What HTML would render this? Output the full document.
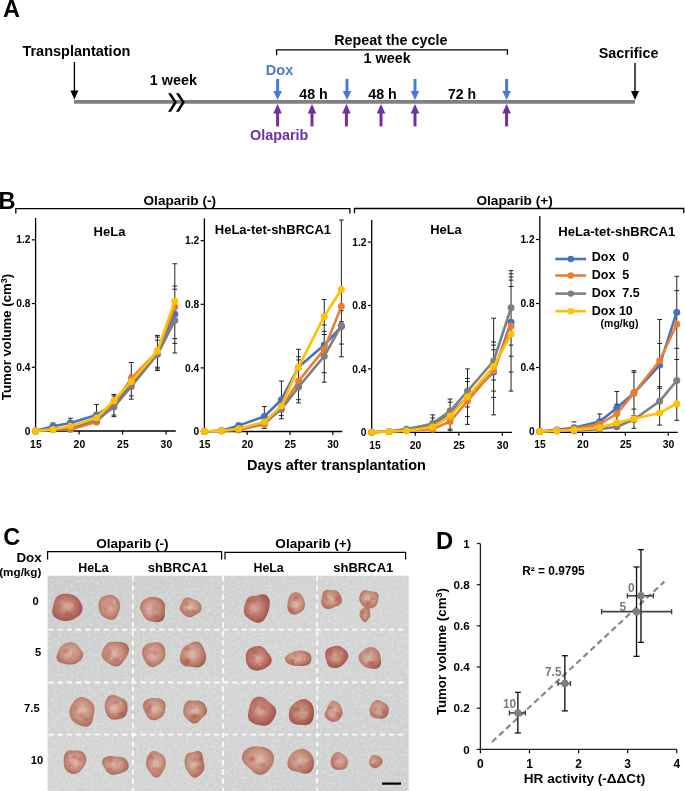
<!DOCTYPE html>
<html><head><meta charset="utf-8"><style>
html,body{margin:0;padding:0;background:#fff;}
svg{display:block;font-family:"Liberation Sans", sans-serif;will-change:transform;}
</style></head><body>
<svg width="685" height="791" viewBox="0 0 685 791">
<text x="3.00" y="17.20" font-size="23.5" text-anchor="start" fill="#000" font-weight="bold" >A</text>
<line x1="74.00" y1="101.80" x2="635.00" y2="101.80" stroke="#808080" stroke-width="3.8" />
<line x1="74.40" y1="62.00" x2="74.40" y2="91.50" stroke="#000" stroke-width="1.4" />
<polygon points="70.40,90.50 78.40,90.50 74.40,99.50" fill="#000"/>
<line x1="635.00" y1="63.00" x2="635.00" y2="92.00" stroke="#000" stroke-width="1.4" />
<polygon points="631.00,91.00 639.00,91.00 635.00,100.00" fill="#000"/>
<text x="22.40" y="56.20" font-size="14.5" text-anchor="start" fill="#000" font-weight="bold" >Transplantation</text>
<text x="598.80" y="58.20" font-size="14.3" text-anchor="start" fill="#000" font-weight="bold" >Sacrifice</text>
<text x="149.80" y="84.80" font-size="14.4" text-anchor="start" fill="#000" font-weight="bold" >1 week</text>
<polygon points="168.00,93.2 171.10,93.2 177.00,102.2 171.10,111.8 168.00,111.8 174.00,102.2" fill="#000"/>
<polygon points="175.90,93.2 179.00,93.2 184.90,102.2 179.00,111.8 175.90,111.8 181.90,102.2" fill="#000"/>
<polyline points="276.6,55.2 276.6,49.8 507.4,49.8 507.4,54.8" fill="none" stroke="#000" stroke-width="1.3"/>
<text x="334.20" y="45.20" font-size="14.36" text-anchor="start" fill="#000" font-weight="bold" >Repeat the cycle</text>
<text x="363.60" y="63.40" font-size="14.4" text-anchor="start" fill="#000" font-weight="bold" >1 week</text>
<line x1="277.60" y1="79.00" x2="277.60" y2="92.00" stroke="#4A7BD0" stroke-width="3.0" />
<polygon points="273.30,91.00 281.90,91.00 277.60,100.00" fill="#4A7BD0"/>
<line x1="347.00" y1="79.00" x2="347.00" y2="92.00" stroke="#4A7BD0" stroke-width="3.0" />
<polygon points="342.70,91.00 351.30,91.00 347.00,100.00" fill="#4A7BD0"/>
<line x1="415.00" y1="79.00" x2="415.00" y2="92.00" stroke="#4A7BD0" stroke-width="3.0" />
<polygon points="410.70,91.00 419.30,91.00 415.00,100.00" fill="#4A7BD0"/>
<line x1="506.60" y1="79.00" x2="506.60" y2="92.00" stroke="#4A7BD0" stroke-width="3.0" />
<polygon points="502.30,91.00 510.90,91.00 506.60,100.00" fill="#4A7BD0"/>
<line x1="277.60" y1="112.50" x2="277.60" y2="126.40" stroke="#7030A0" stroke-width="3.0" />
<polygon points="273.30,113.50 281.90,113.50 277.60,104.00" fill="#7030A0"/>
<line x1="312.00" y1="112.50" x2="312.00" y2="126.40" stroke="#7030A0" stroke-width="3.0" />
<polygon points="307.70,113.50 316.30,113.50 312.00,104.00" fill="#7030A0"/>
<line x1="346.40" y1="112.50" x2="346.40" y2="126.40" stroke="#7030A0" stroke-width="3.0" />
<polygon points="342.10,113.50 350.70,113.50 346.40,104.00" fill="#7030A0"/>
<line x1="381.00" y1="112.50" x2="381.00" y2="126.40" stroke="#7030A0" stroke-width="3.0" />
<polygon points="376.70,113.50 385.30,113.50 381.00,104.00" fill="#7030A0"/>
<line x1="415.00" y1="112.50" x2="415.00" y2="126.40" stroke="#7030A0" stroke-width="3.0" />
<polygon points="410.70,113.50 419.30,113.50 415.00,104.00" fill="#7030A0"/>
<line x1="506.60" y1="112.50" x2="506.60" y2="126.40" stroke="#7030A0" stroke-width="3.0" />
<polygon points="502.30,113.50 510.90,113.50 506.60,104.00" fill="#7030A0"/>
<text x="265.80" y="74.50" font-size="14.5" text-anchor="start" fill="#4A7BD0" font-weight="bold" >Dox</text>
<text x="250.00" y="140.10" font-size="14.4" text-anchor="start" fill="#7030A0" font-weight="bold" >Olaparib</text>
<text x="299.20" y="98.60" font-size="14.3" text-anchor="start" fill="#000" font-weight="bold" >48 h</text>
<text x="368.20" y="98.60" font-size="14.3" text-anchor="start" fill="#000" font-weight="bold" >48 h</text>
<text x="448.00" y="98.60" font-size="14.1" text-anchor="start" fill="#000" font-weight="bold" >72 h</text>
<text x="-1.40" y="208.60" font-size="23.6" text-anchor="start" fill="#000" font-weight="bold" >B</text>
<polyline points="15.8,213.6 15.8,208.6 349.9,208.6 349.9,213.6" fill="none" stroke="#000" stroke-width="1.3"/>
<polyline points="354.5,213.3 354.5,208.5 683.8,208.5 683.8,213.3" fill="none" stroke="#000" stroke-width="1.3"/>
<text x="179.80" y="205.20" font-size="13.6" text-anchor="middle" fill="#000" font-weight="bold" >Olaparib (-)</text>
<text x="514.60" y="205.10" font-size="13.7" text-anchor="middle" fill="#000" font-weight="bold" >Olaparib (+)</text>
<text x="11.20" y="337.00" font-size="13.2" text-anchor="middle" fill="#000" font-weight="bold" transform="rotate(-90 11.2 337.0)">Tumor volume (cm<tspan font-size="9" dy="-3.8">3</tspan><tspan dy="3.8">)</tspan></text>
<text x="336.50" y="470.00" font-size="14.5" text-anchor="middle" fill="#000" font-weight="bold" >Days after transplantation</text>
<line x1="35.60" y1="218.00" x2="35.60" y2="431.50" stroke="#000" stroke-width="1.3" />
<line x1="35.00" y1="431.00" x2="175.80" y2="431.00" stroke="#000" stroke-width="1.3" />
<line x1="31.80" y1="431.00" x2="35.60" y2="431.00" stroke="#000" stroke-width="1.2" />
<text x="30.40" y="434.60" font-size="10.2" text-anchor="end" fill="#000" font-weight="bold" >0</text>
<line x1="31.80" y1="367.28" x2="35.60" y2="367.28" stroke="#000" stroke-width="1.2" />
<text x="30.40" y="370.88" font-size="10.2" text-anchor="end" fill="#000" font-weight="bold" >0.4</text>
<line x1="31.80" y1="303.56" x2="35.60" y2="303.56" stroke="#000" stroke-width="1.2" />
<text x="30.40" y="307.16" font-size="10.2" text-anchor="end" fill="#000" font-weight="bold" >0.8</text>
<line x1="31.80" y1="239.84" x2="35.60" y2="239.84" stroke="#000" stroke-width="1.2" />
<text x="30.40" y="243.44" font-size="10.2" text-anchor="end" fill="#000" font-weight="bold" >1.2</text>
<line x1="79.10" y1="431.00" x2="79.10" y2="434.50" stroke="#000" stroke-width="1.2" />
<line x1="122.60" y1="431.00" x2="122.60" y2="434.50" stroke="#000" stroke-width="1.2" />
<line x1="166.10" y1="431.00" x2="166.10" y2="434.50" stroke="#000" stroke-width="1.2" />
<text x="35.90" y="447.60" font-size="10.4" text-anchor="middle" fill="#000" font-weight="bold" >15</text>
<text x="79.40" y="447.60" font-size="10.4" text-anchor="middle" fill="#000" font-weight="bold" >20</text>
<text x="122.90" y="447.60" font-size="10.4" text-anchor="middle" fill="#000" font-weight="bold" >25</text>
<text x="166.40" y="447.60" font-size="10.4" text-anchor="middle" fill="#000" font-weight="bold" >30</text>
<text x="93.60" y="236.40" font-size="13.0" text-anchor="start" fill="#000" font-weight="bold" >HeLa</text>
<line x1="53.00" y1="423.04" x2="53.00" y2="423.04" stroke="#222" stroke-width="1.0" />
<line x1="50.60" y1="423.04" x2="55.40" y2="423.04" stroke="#222" stroke-width="1.0" />
<line x1="70.40" y1="418.26" x2="70.40" y2="429.41" stroke="#222" stroke-width="1.0" />
<line x1="68.00" y1="418.26" x2="72.80" y2="418.26" stroke="#222" stroke-width="1.0" />
<line x1="68.00" y1="429.41" x2="72.80" y2="429.41" stroke="#222" stroke-width="1.0" />
<line x1="96.50" y1="404.40" x2="96.50" y2="424.63" stroke="#222" stroke-width="1.0" />
<line x1="94.10" y1="404.40" x2="98.90" y2="404.40" stroke="#222" stroke-width="1.0" />
<line x1="94.10" y1="421.44" x2="98.90" y2="421.44" stroke="#222" stroke-width="1.0" />
<line x1="94.10" y1="424.63" x2="98.90" y2="424.63" stroke="#222" stroke-width="1.0" />
<line x1="113.90" y1="394.36" x2="113.90" y2="416.66" stroke="#222" stroke-width="1.0" />
<line x1="111.50" y1="394.36" x2="116.30" y2="394.36" stroke="#222" stroke-width="1.0" />
<line x1="111.50" y1="395.95" x2="116.30" y2="395.95" stroke="#222" stroke-width="1.0" />
<line x1="111.50" y1="415.07" x2="116.30" y2="415.07" stroke="#222" stroke-width="1.0" />
<line x1="111.50" y1="416.66" x2="116.30" y2="416.66" stroke="#222" stroke-width="1.0" />
<line x1="131.30" y1="362.50" x2="131.30" y2="399.14" stroke="#222" stroke-width="1.0" />
<line x1="128.90" y1="362.50" x2="133.70" y2="362.50" stroke="#222" stroke-width="1.0" />
<line x1="128.90" y1="375.25" x2="133.70" y2="375.25" stroke="#222" stroke-width="1.0" />
<line x1="128.90" y1="395.95" x2="133.70" y2="395.95" stroke="#222" stroke-width="1.0" />
<line x1="128.90" y1="399.14" x2="133.70" y2="399.14" stroke="#222" stroke-width="1.0" />
<line x1="157.40" y1="335.42" x2="157.40" y2="370.47" stroke="#222" stroke-width="1.0" />
<line x1="155.00" y1="335.42" x2="159.80" y2="335.42" stroke="#222" stroke-width="1.0" />
<line x1="155.00" y1="337.01" x2="159.80" y2="337.01" stroke="#222" stroke-width="1.0" />
<line x1="155.00" y1="340.20" x2="159.80" y2="340.20" stroke="#222" stroke-width="1.0" />
<line x1="155.00" y1="367.28" x2="159.80" y2="367.28" stroke="#222" stroke-width="1.0" />
<line x1="155.00" y1="368.87" x2="159.80" y2="368.87" stroke="#222" stroke-width="1.0" />
<line x1="155.00" y1="370.47" x2="159.80" y2="370.47" stroke="#222" stroke-width="1.0" />
<line x1="174.80" y1="263.74" x2="174.80" y2="352.94" stroke="#222" stroke-width="1.0" />
<line x1="172.40" y1="263.74" x2="177.20" y2="263.74" stroke="#222" stroke-width="1.0" />
<line x1="172.40" y1="286.04" x2="177.20" y2="286.04" stroke="#222" stroke-width="1.0" />
<line x1="172.40" y1="289.22" x2="177.20" y2="289.22" stroke="#222" stroke-width="1.0" />
<line x1="172.40" y1="338.61" x2="177.20" y2="338.61" stroke="#222" stroke-width="1.0" />
<line x1="172.40" y1="343.38" x2="177.20" y2="343.38" stroke="#222" stroke-width="1.0" />
<line x1="172.40" y1="352.94" x2="177.20" y2="352.94" stroke="#222" stroke-width="1.0" />
<polyline points="35.60,431.00 53.00,426.22 70.40,423.04 96.50,415.07 113.90,403.92 131.30,383.21 157.40,351.35 174.80,314.07" fill="none" stroke="#4472C4" stroke-width="2.6" stroke-linejoin="round"/>
<circle cx="35.60" cy="431.00" r="3.5" fill="#4472C4"/>
<circle cx="53.00" cy="426.22" r="3.5" fill="#4472C4"/>
<circle cx="70.40" cy="423.04" r="3.5" fill="#4472C4"/>
<circle cx="96.50" cy="415.07" r="3.5" fill="#4472C4"/>
<circle cx="113.90" cy="403.92" r="3.5" fill="#4472C4"/>
<circle cx="131.30" cy="383.21" r="3.5" fill="#4472C4"/>
<circle cx="157.40" cy="351.35" r="3.5" fill="#4472C4"/>
<circle cx="174.80" cy="314.07" r="3.5" fill="#4472C4"/>
<polyline points="35.60,431.00 53.00,429.41 70.40,429.41 96.50,422.08 113.90,403.92 131.30,378.43 157.40,351.35 174.80,307.06" fill="none" stroke="#ED7D31" stroke-width="2.6" stroke-linejoin="round"/>
<circle cx="35.60" cy="431.00" r="3.5" fill="#ED7D31"/>
<circle cx="53.00" cy="429.41" r="3.5" fill="#ED7D31"/>
<circle cx="70.40" cy="429.41" r="3.5" fill="#ED7D31"/>
<circle cx="96.50" cy="422.08" r="3.5" fill="#ED7D31"/>
<circle cx="113.90" cy="403.92" r="3.5" fill="#ED7D31"/>
<circle cx="131.30" cy="378.43" r="3.5" fill="#ED7D31"/>
<circle cx="157.40" cy="351.35" r="3.5" fill="#ED7D31"/>
<circle cx="174.80" cy="307.06" r="3.5" fill="#ED7D31"/>
<polyline points="35.60,431.00 53.00,429.41 70.40,427.81 96.50,419.85 113.90,407.11 131.30,386.40 157.40,354.54 174.80,320.61" fill="none" stroke="#7F7F7F" stroke-width="2.6" stroke-linejoin="round"/>
<circle cx="35.60" cy="431.00" r="3.5" fill="#7F7F7F"/>
<circle cx="53.00" cy="429.41" r="3.5" fill="#7F7F7F"/>
<circle cx="70.40" cy="427.81" r="3.5" fill="#7F7F7F"/>
<circle cx="96.50" cy="419.85" r="3.5" fill="#7F7F7F"/>
<circle cx="113.90" cy="407.11" r="3.5" fill="#7F7F7F"/>
<circle cx="131.30" cy="386.40" r="3.5" fill="#7F7F7F"/>
<circle cx="157.40" cy="354.54" r="3.5" fill="#7F7F7F"/>
<circle cx="174.80" cy="320.61" r="3.5" fill="#7F7F7F"/>
<polyline points="35.60,431.00 53.00,429.41 70.40,426.22 96.50,417.94 113.90,400.73 131.30,381.62 157.40,351.35 174.80,301.01" fill="none" stroke="#FFC000" stroke-width="2.6" stroke-linejoin="round"/>
<circle cx="35.60" cy="431.00" r="3.5" fill="#FFC000"/>
<circle cx="53.00" cy="429.41" r="3.5" fill="#FFC000"/>
<circle cx="70.40" cy="426.22" r="3.5" fill="#FFC000"/>
<circle cx="96.50" cy="417.94" r="3.5" fill="#FFC000"/>
<circle cx="113.90" cy="400.73" r="3.5" fill="#FFC000"/>
<circle cx="131.30" cy="381.62" r="3.5" fill="#FFC000"/>
<circle cx="157.40" cy="351.35" r="3.5" fill="#FFC000"/>
<circle cx="174.80" cy="301.01" r="3.5" fill="#FFC000"/>
<line x1="204.40" y1="218.40" x2="204.40" y2="432.00" stroke="#000" stroke-width="1.3" />
<line x1="203.80" y1="431.50" x2="342.36" y2="431.50" stroke="#000" stroke-width="1.3" />
<line x1="200.60" y1="431.50" x2="204.40" y2="431.50" stroke="#000" stroke-width="1.2" />
<text x="199.20" y="435.10" font-size="10.2" text-anchor="end" fill="#000" font-weight="bold" >0</text>
<line x1="200.60" y1="367.90" x2="204.40" y2="367.90" stroke="#000" stroke-width="1.2" />
<text x="199.20" y="371.50" font-size="10.2" text-anchor="end" fill="#000" font-weight="bold" >0.4</text>
<line x1="200.60" y1="304.30" x2="204.40" y2="304.30" stroke="#000" stroke-width="1.2" />
<text x="199.20" y="307.90" font-size="10.2" text-anchor="end" fill="#000" font-weight="bold" >0.8</text>
<line x1="200.60" y1="240.70" x2="204.40" y2="240.70" stroke="#000" stroke-width="1.2" />
<text x="199.20" y="244.30" font-size="10.2" text-anchor="end" fill="#000" font-weight="bold" >1.2</text>
<line x1="247.20" y1="431.50" x2="247.20" y2="435.00" stroke="#000" stroke-width="1.2" />
<line x1="290.00" y1="431.50" x2="290.00" y2="435.00" stroke="#000" stroke-width="1.2" />
<line x1="332.80" y1="431.50" x2="332.80" y2="435.00" stroke="#000" stroke-width="1.2" />
<text x="204.70" y="448.10" font-size="10.4" text-anchor="middle" fill="#000" font-weight="bold" >15</text>
<text x="247.50" y="448.10" font-size="10.4" text-anchor="middle" fill="#000" font-weight="bold" >20</text>
<text x="290.30" y="448.10" font-size="10.4" text-anchor="middle" fill="#000" font-weight="bold" >25</text>
<text x="333.10" y="448.10" font-size="10.4" text-anchor="middle" fill="#000" font-weight="bold" >30</text>
<text x="214.80" y="234.30" font-size="13.0" text-anchor="start" fill="#000" font-weight="bold" >HeLa-tet-shBRCA1</text>
<line x1="238.64" y1="423.55" x2="238.64" y2="423.55" stroke="#222" stroke-width="1.0" />
<line x1="236.24" y1="423.55" x2="241.04" y2="423.55" stroke="#222" stroke-width="1.0" />
<line x1="264.32" y1="406.54" x2="264.32" y2="428.32" stroke="#222" stroke-width="1.0" />
<line x1="261.92" y1="406.54" x2="266.72" y2="406.54" stroke="#222" stroke-width="1.0" />
<line x1="261.92" y1="425.14" x2="266.72" y2="425.14" stroke="#222" stroke-width="1.0" />
<line x1="261.92" y1="428.32" x2="266.72" y2="428.32" stroke="#222" stroke-width="1.0" />
<line x1="281.44" y1="381.10" x2="281.44" y2="418.78" stroke="#222" stroke-width="1.0" />
<line x1="279.04" y1="381.10" x2="283.84" y2="381.10" stroke="#222" stroke-width="1.0" />
<line x1="279.04" y1="406.06" x2="283.84" y2="406.06" stroke="#222" stroke-width="1.0" />
<line x1="279.04" y1="415.60" x2="283.84" y2="415.60" stroke="#222" stroke-width="1.0" />
<line x1="279.04" y1="418.78" x2="283.84" y2="418.78" stroke="#222" stroke-width="1.0" />
<line x1="298.56" y1="349.30" x2="298.56" y2="402.88" stroke="#222" stroke-width="1.0" />
<line x1="296.16" y1="349.30" x2="300.96" y2="349.30" stroke="#222" stroke-width="1.0" />
<line x1="296.16" y1="356.77" x2="300.96" y2="356.77" stroke="#222" stroke-width="1.0" />
<line x1="296.16" y1="359.95" x2="300.96" y2="359.95" stroke="#222" stroke-width="1.0" />
<line x1="296.16" y1="399.70" x2="300.96" y2="399.70" stroke="#222" stroke-width="1.0" />
<line x1="296.16" y1="402.88" x2="300.96" y2="402.88" stroke="#222" stroke-width="1.0" />
<line x1="324.24" y1="299.53" x2="324.24" y2="382.21" stroke="#222" stroke-width="1.0" />
<line x1="321.84" y1="299.53" x2="326.64" y2="299.53" stroke="#222" stroke-width="1.0" />
<line x1="321.84" y1="324.97" x2="326.64" y2="324.97" stroke="#222" stroke-width="1.0" />
<line x1="321.84" y1="331.33" x2="326.64" y2="331.33" stroke="#222" stroke-width="1.0" />
<line x1="321.84" y1="334.51" x2="326.64" y2="334.51" stroke="#222" stroke-width="1.0" />
<line x1="321.84" y1="372.67" x2="326.64" y2="372.67" stroke="#222" stroke-width="1.0" />
<line x1="321.84" y1="382.21" x2="326.64" y2="382.21" stroke="#222" stroke-width="1.0" />
<line x1="341.36" y1="220.03" x2="341.36" y2="356.77" stroke="#222" stroke-width="1.0" />
<line x1="338.96" y1="220.03" x2="343.76" y2="220.03" stroke="#222" stroke-width="1.0" />
<line x1="338.96" y1="310.66" x2="343.76" y2="310.66" stroke="#222" stroke-width="1.0" />
<line x1="338.96" y1="321.79" x2="343.76" y2="321.79" stroke="#222" stroke-width="1.0" />
<line x1="338.96" y1="344.05" x2="343.76" y2="344.05" stroke="#222" stroke-width="1.0" />
<line x1="338.96" y1="356.77" x2="343.76" y2="356.77" stroke="#222" stroke-width="1.0" />
<polyline points="204.40,431.50 221.52,430.70 238.64,425.62 264.32,416.55 281.44,399.70 298.56,367.11 324.24,345.00 341.36,326.56" fill="none" stroke="#4472C4" stroke-width="2.6" stroke-linejoin="round"/>
<circle cx="204.40" cy="431.50" r="3.5" fill="#4472C4"/>
<circle cx="221.52" cy="430.70" r="3.5" fill="#4472C4"/>
<circle cx="238.64" cy="425.62" r="3.5" fill="#4472C4"/>
<circle cx="264.32" cy="416.55" r="3.5" fill="#4472C4"/>
<circle cx="281.44" cy="399.70" r="3.5" fill="#4472C4"/>
<circle cx="298.56" cy="367.11" r="3.5" fill="#4472C4"/>
<circle cx="324.24" cy="345.00" r="3.5" fill="#4472C4"/>
<circle cx="341.36" cy="326.56" r="3.5" fill="#4472C4"/>
<polyline points="204.40,431.50 221.52,430.70 238.64,429.91 264.32,424.35 281.44,407.65 298.56,381.10 324.24,349.30 341.36,306.37" fill="none" stroke="#ED7D31" stroke-width="2.6" stroke-linejoin="round"/>
<circle cx="204.40" cy="431.50" r="3.5" fill="#ED7D31"/>
<circle cx="221.52" cy="430.70" r="3.5" fill="#ED7D31"/>
<circle cx="238.64" cy="429.91" r="3.5" fill="#ED7D31"/>
<circle cx="264.32" cy="424.35" r="3.5" fill="#ED7D31"/>
<circle cx="281.44" cy="407.65" r="3.5" fill="#ED7D31"/>
<circle cx="298.56" cy="381.10" r="3.5" fill="#ED7D31"/>
<circle cx="324.24" cy="349.30" r="3.5" fill="#ED7D31"/>
<circle cx="341.36" cy="306.37" r="3.5" fill="#ED7D31"/>
<polyline points="204.40,431.50 221.52,430.70 238.64,429.12 264.32,422.75 281.44,409.24 298.56,386.98 324.24,356.13 341.36,325.45" fill="none" stroke="#7F7F7F" stroke-width="2.6" stroke-linejoin="round"/>
<circle cx="204.40" cy="431.50" r="3.5" fill="#7F7F7F"/>
<circle cx="221.52" cy="430.70" r="3.5" fill="#7F7F7F"/>
<circle cx="238.64" cy="429.12" r="3.5" fill="#7F7F7F"/>
<circle cx="264.32" cy="422.75" r="3.5" fill="#7F7F7F"/>
<circle cx="281.44" cy="409.24" r="3.5" fill="#7F7F7F"/>
<circle cx="298.56" cy="386.98" r="3.5" fill="#7F7F7F"/>
<circle cx="324.24" cy="356.13" r="3.5" fill="#7F7F7F"/>
<circle cx="341.36" cy="325.45" r="3.5" fill="#7F7F7F"/>
<polyline points="204.40,431.50 221.52,430.70 238.64,428.80 264.32,421.96 281.44,406.06 298.56,367.11 324.24,316.38 341.36,289.51" fill="none" stroke="#FFC000" stroke-width="2.6" stroke-linejoin="round"/>
<circle cx="204.40" cy="431.50" r="3.5" fill="#FFC000"/>
<circle cx="221.52" cy="430.70" r="3.5" fill="#FFC000"/>
<circle cx="238.64" cy="428.80" r="3.5" fill="#FFC000"/>
<circle cx="264.32" cy="421.96" r="3.5" fill="#FFC000"/>
<circle cx="281.44" cy="406.06" r="3.5" fill="#FFC000"/>
<circle cx="298.56" cy="367.11" r="3.5" fill="#FFC000"/>
<circle cx="324.24" cy="316.38" r="3.5" fill="#FFC000"/>
<circle cx="341.36" cy="289.51" r="3.5" fill="#FFC000"/>
<line x1="371.70" y1="220.00" x2="371.70" y2="432.80" stroke="#000" stroke-width="1.3" />
<line x1="371.10" y1="432.30" x2="512.06" y2="432.30" stroke="#000" stroke-width="1.3" />
<line x1="367.90" y1="432.30" x2="371.70" y2="432.30" stroke="#000" stroke-width="1.2" />
<text x="366.50" y="435.90" font-size="10.2" text-anchor="end" fill="#000" font-weight="bold" >0</text>
<line x1="367.90" y1="368.90" x2="371.70" y2="368.90" stroke="#000" stroke-width="1.2" />
<text x="366.50" y="372.50" font-size="10.2" text-anchor="end" fill="#000" font-weight="bold" >0.4</text>
<line x1="367.90" y1="305.50" x2="371.70" y2="305.50" stroke="#000" stroke-width="1.2" />
<text x="366.50" y="309.10" font-size="10.2" text-anchor="end" fill="#000" font-weight="bold" >0.8</text>
<line x1="367.90" y1="242.10" x2="371.70" y2="242.10" stroke="#000" stroke-width="1.2" />
<text x="366.50" y="245.70" font-size="10.2" text-anchor="end" fill="#000" font-weight="bold" >1.2</text>
<line x1="415.25" y1="432.30" x2="415.25" y2="435.80" stroke="#000" stroke-width="1.2" />
<line x1="458.80" y1="432.30" x2="458.80" y2="435.80" stroke="#000" stroke-width="1.2" />
<line x1="502.35" y1="432.30" x2="502.35" y2="435.80" stroke="#000" stroke-width="1.2" />
<text x="375.00" y="448.90" font-size="10.4" text-anchor="middle" fill="#000" font-weight="bold" >15</text>
<text x="415.55" y="448.90" font-size="10.4" text-anchor="middle" fill="#000" font-weight="bold" >20</text>
<text x="459.10" y="448.90" font-size="10.4" text-anchor="middle" fill="#000" font-weight="bold" >25</text>
<text x="502.65" y="448.90" font-size="10.4" text-anchor="middle" fill="#000" font-weight="bold" >30</text>
<text x="430.20" y="234.40" font-size="12.9" text-anchor="start" fill="#000" font-weight="bold" >HeLa</text>
<line x1="406.54" y1="427.55" x2="406.54" y2="427.55" stroke="#222" stroke-width="1.0" />
<line x1="404.14" y1="427.55" x2="408.94" y2="427.55" stroke="#222" stroke-width="1.0" />
<line x1="432.67" y1="414.87" x2="432.67" y2="421.20" stroke="#222" stroke-width="1.0" />
<line x1="430.27" y1="414.87" x2="435.07" y2="414.87" stroke="#222" stroke-width="1.0" />
<line x1="430.27" y1="418.04" x2="435.07" y2="418.04" stroke="#222" stroke-width="1.0" />
<line x1="430.27" y1="421.20" x2="435.07" y2="421.20" stroke="#222" stroke-width="1.0" />
<line x1="450.09" y1="399.01" x2="450.09" y2="430.72" stroke="#222" stroke-width="1.0" />
<line x1="447.69" y1="399.01" x2="452.49" y2="399.01" stroke="#222" stroke-width="1.0" />
<line x1="447.69" y1="402.19" x2="452.49" y2="402.19" stroke="#222" stroke-width="1.0" />
<line x1="447.69" y1="414.87" x2="452.49" y2="414.87" stroke="#222" stroke-width="1.0" />
<line x1="447.69" y1="429.13" x2="452.49" y2="429.13" stroke="#222" stroke-width="1.0" />
<line x1="447.69" y1="430.72" x2="452.49" y2="430.72" stroke="#222" stroke-width="1.0" />
<line x1="467.51" y1="368.90" x2="467.51" y2="424.38" stroke="#222" stroke-width="1.0" />
<line x1="465.11" y1="368.90" x2="469.91" y2="368.90" stroke="#222" stroke-width="1.0" />
<line x1="465.11" y1="378.41" x2="469.91" y2="378.41" stroke="#222" stroke-width="1.0" />
<line x1="465.11" y1="381.58" x2="469.91" y2="381.58" stroke="#222" stroke-width="1.0" />
<line x1="465.11" y1="406.94" x2="469.91" y2="406.94" stroke="#222" stroke-width="1.0" />
<line x1="465.11" y1="416.45" x2="469.91" y2="416.45" stroke="#222" stroke-width="1.0" />
<line x1="465.11" y1="424.38" x2="469.91" y2="424.38" stroke="#222" stroke-width="1.0" />
<line x1="493.64" y1="318.18" x2="493.64" y2="414.87" stroke="#222" stroke-width="1.0" />
<line x1="491.24" y1="318.18" x2="496.04" y2="318.18" stroke="#222" stroke-width="1.0" />
<line x1="491.24" y1="341.96" x2="496.04" y2="341.96" stroke="#222" stroke-width="1.0" />
<line x1="491.24" y1="345.12" x2="496.04" y2="345.12" stroke="#222" stroke-width="1.0" />
<line x1="491.24" y1="349.88" x2="496.04" y2="349.88" stroke="#222" stroke-width="1.0" />
<line x1="491.24" y1="380.00" x2="496.04" y2="380.00" stroke="#222" stroke-width="1.0" />
<line x1="491.24" y1="391.09" x2="496.04" y2="391.09" stroke="#222" stroke-width="1.0" />
<line x1="491.24" y1="397.43" x2="496.04" y2="397.43" stroke="#222" stroke-width="1.0" />
<line x1="491.24" y1="414.87" x2="496.04" y2="414.87" stroke="#222" stroke-width="1.0" />
<line x1="511.06" y1="270.63" x2="511.06" y2="391.09" stroke="#222" stroke-width="1.0" />
<line x1="508.66" y1="270.63" x2="513.46" y2="270.63" stroke="#222" stroke-width="1.0" />
<line x1="508.66" y1="273.80" x2="513.46" y2="273.80" stroke="#222" stroke-width="1.0" />
<line x1="508.66" y1="276.97" x2="513.46" y2="276.97" stroke="#222" stroke-width="1.0" />
<line x1="508.66" y1="280.14" x2="513.46" y2="280.14" stroke="#222" stroke-width="1.0" />
<line x1="508.66" y1="286.48" x2="513.46" y2="286.48" stroke="#222" stroke-width="1.0" />
<line x1="508.66" y1="345.12" x2="513.46" y2="345.12" stroke="#222" stroke-width="1.0" />
<line x1="508.66" y1="356.22" x2="513.46" y2="356.22" stroke="#222" stroke-width="1.0" />
<line x1="508.66" y1="372.07" x2="513.46" y2="372.07" stroke="#222" stroke-width="1.0" />
<line x1="508.66" y1="391.09" x2="513.46" y2="391.09" stroke="#222" stroke-width="1.0" />
<polyline points="371.70,432.30 389.12,431.51 406.54,429.13 432.67,424.38 450.09,413.28 467.51,397.43 493.64,372.07 511.06,322.30" fill="none" stroke="#4472C4" stroke-width="2.6" stroke-linejoin="round"/>
<circle cx="371.70" cy="432.30" r="3.5" fill="#4472C4"/>
<circle cx="389.12" cy="431.51" r="3.5" fill="#4472C4"/>
<circle cx="406.54" cy="429.13" r="3.5" fill="#4472C4"/>
<circle cx="432.67" cy="424.38" r="3.5" fill="#4472C4"/>
<circle cx="450.09" cy="413.28" r="3.5" fill="#4472C4"/>
<circle cx="467.51" cy="397.43" r="3.5" fill="#4472C4"/>
<circle cx="493.64" cy="372.07" r="3.5" fill="#4472C4"/>
<circle cx="511.06" cy="322.30" r="3.5" fill="#4472C4"/>
<polyline points="371.70,432.30 389.12,431.51 406.54,430.72 432.67,429.13 450.09,421.52 467.51,401.08 493.64,370.49 511.06,326.11" fill="none" stroke="#ED7D31" stroke-width="2.6" stroke-linejoin="round"/>
<circle cx="371.70" cy="432.30" r="3.5" fill="#ED7D31"/>
<circle cx="389.12" cy="431.51" r="3.5" fill="#ED7D31"/>
<circle cx="406.54" cy="430.72" r="3.5" fill="#ED7D31"/>
<circle cx="432.67" cy="429.13" r="3.5" fill="#ED7D31"/>
<circle cx="450.09" cy="421.52" r="3.5" fill="#ED7D31"/>
<circle cx="467.51" cy="401.08" r="3.5" fill="#ED7D31"/>
<circle cx="493.64" cy="370.49" r="3.5" fill="#ED7D31"/>
<circle cx="511.06" cy="326.11" r="3.5" fill="#ED7D31"/>
<polyline points="371.70,432.30 389.12,431.51 406.54,429.92 432.67,423.42 450.09,411.06 467.51,391.09 493.64,360.98 511.06,307.72" fill="none" stroke="#7F7F7F" stroke-width="2.6" stroke-linejoin="round"/>
<circle cx="371.70" cy="432.30" r="3.5" fill="#7F7F7F"/>
<circle cx="389.12" cy="431.51" r="3.5" fill="#7F7F7F"/>
<circle cx="406.54" cy="429.92" r="3.5" fill="#7F7F7F"/>
<circle cx="432.67" cy="423.42" r="3.5" fill="#7F7F7F"/>
<circle cx="450.09" cy="411.06" r="3.5" fill="#7F7F7F"/>
<circle cx="467.51" cy="391.09" r="3.5" fill="#7F7F7F"/>
<circle cx="493.64" cy="360.98" r="3.5" fill="#7F7F7F"/>
<circle cx="511.06" cy="307.72" r="3.5" fill="#7F7F7F"/>
<polyline points="371.70,432.30 389.12,431.51 406.54,430.72 432.67,427.07 450.09,415.97 467.51,396.80 493.64,366.52 511.06,334.03" fill="none" stroke="#FFC000" stroke-width="2.6" stroke-linejoin="round"/>
<circle cx="371.70" cy="432.30" r="3.5" fill="#FFC000"/>
<circle cx="389.12" cy="431.51" r="3.5" fill="#FFC000"/>
<circle cx="406.54" cy="430.72" r="3.5" fill="#FFC000"/>
<circle cx="432.67" cy="427.07" r="3.5" fill="#FFC000"/>
<circle cx="450.09" cy="415.97" r="3.5" fill="#FFC000"/>
<circle cx="467.51" cy="396.80" r="3.5" fill="#FFC000"/>
<circle cx="493.64" cy="366.52" r="3.5" fill="#FFC000"/>
<circle cx="511.06" cy="334.03" r="3.5" fill="#FFC000"/>
<line x1="539.80" y1="216.00" x2="539.80" y2="432.00" stroke="#000" stroke-width="1.3" />
<line x1="539.20" y1="432.30" x2="677.76" y2="432.30" stroke="#000" stroke-width="1.3" />
<line x1="536.00" y1="431.50" x2="539.80" y2="431.50" stroke="#000" stroke-width="1.2" />
<text x="534.60" y="435.10" font-size="10.2" text-anchor="end" fill="#000" font-weight="bold" >0</text>
<line x1="536.00" y1="367.50" x2="539.80" y2="367.50" stroke="#000" stroke-width="1.2" />
<text x="534.60" y="371.10" font-size="10.2" text-anchor="end" fill="#000" font-weight="bold" >0.4</text>
<line x1="536.00" y1="303.50" x2="539.80" y2="303.50" stroke="#000" stroke-width="1.2" />
<text x="534.60" y="307.10" font-size="10.2" text-anchor="end" fill="#000" font-weight="bold" >0.8</text>
<line x1="536.00" y1="239.50" x2="539.80" y2="239.50" stroke="#000" stroke-width="1.2" />
<text x="534.60" y="243.10" font-size="10.2" text-anchor="end" fill="#000" font-weight="bold" >1.2</text>
<line x1="582.60" y1="432.30" x2="582.60" y2="435.80" stroke="#000" stroke-width="1.2" />
<line x1="625.40" y1="432.30" x2="625.40" y2="435.80" stroke="#000" stroke-width="1.2" />
<line x1="668.20" y1="432.30" x2="668.20" y2="435.80" stroke="#000" stroke-width="1.2" />
<text x="540.10" y="448.10" font-size="10.4" text-anchor="middle" fill="#000" font-weight="bold" >15</text>
<text x="582.90" y="448.10" font-size="10.4" text-anchor="middle" fill="#000" font-weight="bold" >20</text>
<text x="625.70" y="448.10" font-size="10.4" text-anchor="middle" fill="#000" font-weight="bold" >25</text>
<text x="668.50" y="448.10" font-size="10.4" text-anchor="middle" fill="#000" font-weight="bold" >30</text>
<text x="558.20" y="235.50" font-size="13.1" text-anchor="start" fill="#000" font-weight="bold" >HeLa-tet-shBRCA1</text>
<line x1="574.04" y1="421.90" x2="574.04" y2="421.90" stroke="#222" stroke-width="1.0" />
<line x1="571.64" y1="421.90" x2="576.44" y2="421.90" stroke="#222" stroke-width="1.0" />
<line x1="599.72" y1="413.90" x2="599.72" y2="420.30" stroke="#222" stroke-width="1.0" />
<line x1="597.32" y1="413.90" x2="602.12" y2="413.90" stroke="#222" stroke-width="1.0" />
<line x1="597.32" y1="420.30" x2="602.12" y2="420.30" stroke="#222" stroke-width="1.0" />
<line x1="616.84" y1="391.50" x2="616.84" y2="428.30" stroke="#222" stroke-width="1.0" />
<line x1="614.44" y1="391.50" x2="619.24" y2="391.50" stroke="#222" stroke-width="1.0" />
<line x1="614.44" y1="404.30" x2="619.24" y2="404.30" stroke="#222" stroke-width="1.0" />
<line x1="614.44" y1="428.30" x2="619.24" y2="428.30" stroke="#222" stroke-width="1.0" />
<line x1="633.96" y1="370.70" x2="633.96" y2="428.30" stroke="#222" stroke-width="1.0" />
<line x1="631.56" y1="370.70" x2="636.36" y2="370.70" stroke="#222" stroke-width="1.0" />
<line x1="631.56" y1="372.30" x2="636.36" y2="372.30" stroke="#222" stroke-width="1.0" />
<line x1="631.56" y1="409.10" x2="636.36" y2="409.10" stroke="#222" stroke-width="1.0" />
<line x1="631.56" y1="415.50" x2="636.36" y2="415.50" stroke="#222" stroke-width="1.0" />
<line x1="631.56" y1="428.30" x2="636.36" y2="428.30" stroke="#222" stroke-width="1.0" />
<line x1="659.64" y1="319.50" x2="659.64" y2="425.10" stroke="#222" stroke-width="1.0" />
<line x1="657.24" y1="319.50" x2="662.04" y2="319.50" stroke="#222" stroke-width="1.0" />
<line x1="657.24" y1="343.50" x2="662.04" y2="343.50" stroke="#222" stroke-width="1.0" />
<line x1="657.24" y1="386.70" x2="662.04" y2="386.70" stroke="#222" stroke-width="1.0" />
<line x1="657.24" y1="388.30" x2="662.04" y2="388.30" stroke="#222" stroke-width="1.0" />
<line x1="657.24" y1="425.10" x2="662.04" y2="425.10" stroke="#222" stroke-width="1.0" />
<line x1="676.76" y1="276.30" x2="676.76" y2="420.30" stroke="#222" stroke-width="1.0" />
<line x1="674.36" y1="276.30" x2="679.16" y2="276.30" stroke="#222" stroke-width="1.0" />
<line x1="674.36" y1="290.70" x2="679.16" y2="290.70" stroke="#222" stroke-width="1.0" />
<line x1="674.36" y1="348.30" x2="679.16" y2="348.30" stroke="#222" stroke-width="1.0" />
<line x1="674.36" y1="359.50" x2="679.16" y2="359.50" stroke="#222" stroke-width="1.0" />
<line x1="674.36" y1="420.30" x2="679.16" y2="420.30" stroke="#222" stroke-width="1.0" />
<polyline points="539.80,431.50 556.92,429.90 574.04,427.82 599.72,421.58 616.84,407.98 633.96,393.10 659.64,365.10 676.76,312.14" fill="none" stroke="#4472C4" stroke-width="2.6" stroke-linejoin="round"/>
<circle cx="539.80" cy="431.50" r="3.5" fill="#4472C4"/>
<circle cx="556.92" cy="429.90" r="3.5" fill="#4472C4"/>
<circle cx="574.04" cy="427.82" r="3.5" fill="#4472C4"/>
<circle cx="599.72" cy="421.58" r="3.5" fill="#4472C4"/>
<circle cx="616.84" cy="407.98" r="3.5" fill="#4472C4"/>
<circle cx="633.96" cy="393.10" r="3.5" fill="#4472C4"/>
<circle cx="659.64" cy="365.10" r="3.5" fill="#4472C4"/>
<circle cx="676.76" cy="312.14" r="3.5" fill="#4472C4"/>
<polyline points="539.80,431.50 556.92,430.70 574.04,429.10 599.72,424.14 616.84,413.74 633.96,393.10 659.64,360.78 676.76,324.30" fill="none" stroke="#ED7D31" stroke-width="2.6" stroke-linejoin="round"/>
<circle cx="539.80" cy="431.50" r="3.5" fill="#ED7D31"/>
<circle cx="556.92" cy="430.70" r="3.5" fill="#ED7D31"/>
<circle cx="574.04" cy="429.10" r="3.5" fill="#ED7D31"/>
<circle cx="599.72" cy="424.14" r="3.5" fill="#ED7D31"/>
<circle cx="616.84" cy="413.74" r="3.5" fill="#ED7D31"/>
<circle cx="633.96" cy="393.10" r="3.5" fill="#ED7D31"/>
<circle cx="659.64" cy="360.78" r="3.5" fill="#ED7D31"/>
<circle cx="676.76" cy="324.30" r="3.5" fill="#ED7D31"/>
<polyline points="539.80,431.50 556.92,430.70 574.04,430.70 599.72,429.10 616.84,426.70 633.96,419.50 659.64,401.26 676.76,380.62" fill="none" stroke="#7F7F7F" stroke-width="2.6" stroke-linejoin="round"/>
<circle cx="539.80" cy="431.50" r="3.5" fill="#7F7F7F"/>
<circle cx="556.92" cy="430.70" r="3.5" fill="#7F7F7F"/>
<circle cx="574.04" cy="430.70" r="3.5" fill="#7F7F7F"/>
<circle cx="599.72" cy="429.10" r="3.5" fill="#7F7F7F"/>
<circle cx="616.84" cy="426.70" r="3.5" fill="#7F7F7F"/>
<circle cx="633.96" cy="419.50" r="3.5" fill="#7F7F7F"/>
<circle cx="659.64" cy="401.26" r="3.5" fill="#7F7F7F"/>
<circle cx="676.76" cy="380.62" r="3.5" fill="#7F7F7F"/>
<polyline points="539.80,431.50 556.92,430.70 574.04,429.90 599.72,427.82 616.84,422.86 633.96,418.70 659.64,412.94 676.76,403.66" fill="none" stroke="#FFC000" stroke-width="2.6" stroke-linejoin="round"/>
<circle cx="539.80" cy="431.50" r="3.5" fill="#FFC000"/>
<circle cx="556.92" cy="430.70" r="3.5" fill="#FFC000"/>
<circle cx="574.04" cy="429.90" r="3.5" fill="#FFC000"/>
<circle cx="599.72" cy="427.82" r="3.5" fill="#FFC000"/>
<circle cx="616.84" cy="422.86" r="3.5" fill="#FFC000"/>
<circle cx="633.96" cy="418.70" r="3.5" fill="#FFC000"/>
<circle cx="659.64" cy="412.94" r="3.5" fill="#FFC000"/>
<circle cx="676.76" cy="403.66" r="3.5" fill="#FFC000"/>
<line x1="555.30" y1="259.00" x2="586.10" y2="259.00" stroke="#4472C4" stroke-width="2.6" />
<circle cx="570.8" cy="259" r="3.2" fill="#4472C4"/>
<text x="591.80" y="261.10" font-size="12.5" text-anchor="start" fill="#000" font-weight="bold" >Dox&#160;&#160;0</text>
<line x1="555.30" y1="275.50" x2="586.10" y2="275.50" stroke="#ED7D31" stroke-width="2.6" />
<circle cx="570.8" cy="275.5" r="3.2" fill="#ED7D31"/>
<text x="591.80" y="278.90" font-size="12.5" text-anchor="start" fill="#000" font-weight="bold" >Dox&#160;&#160;5</text>
<line x1="555.30" y1="293.60" x2="586.10" y2="293.60" stroke="#7F7F7F" stroke-width="2.6" />
<circle cx="570.8" cy="293.6" r="3.2" fill="#7F7F7F"/>
<text x="591.80" y="296.70" font-size="12.5" text-anchor="start" fill="#000" font-weight="bold" >Dox&#160;&#160;7.5</text>
<line x1="555.30" y1="311.20" x2="586.10" y2="311.20" stroke="#FFC000" stroke-width="2.6" />
<circle cx="570.8" cy="311.2" r="3.2" fill="#FFC000"/>
<text x="591.80" y="314.80" font-size="12.5" text-anchor="start" fill="#000" font-weight="bold" >Dox 10</text>
<text x="600.60" y="327.00" font-size="10.5" text-anchor="start" fill="#000" font-weight="bold" >(mg/kg)</text>
<text x="3.20" y="545.20" font-size="23.5" text-anchor="start" fill="#000" font-weight="bold" >C</text>
<text x="16.40" y="561.60" font-size="13.4" text-anchor="start" fill="#000" font-weight="bold" >Dox</text>
<text x="-0.80" y="576.40" font-size="11.7" text-anchor="start" fill="#000" font-weight="bold" >(mg/kg)</text>
<polyline points="47.6,559.6 47.6,551.6 221.6,551.6 221.6,559.6" fill="none" stroke="#000" stroke-width="1.2"/>
<polyline points="225,559.6 225,552.4 405.6,552.4 405.6,559.6" fill="none" stroke="#000" stroke-width="1.2"/>
<text x="132.40" y="548.20" font-size="13.6" text-anchor="middle" fill="#000" font-weight="bold" >Olaparib (-)</text>
<text x="313.30" y="548.20" font-size="13.6" text-anchor="middle" fill="#000" font-weight="bold" >Olaparib (+)</text>
<text x="93.50" y="571.80" font-size="12.4" text-anchor="middle" fill="#000" font-weight="bold" >HeLa</text>
<text x="177.80" y="571.80" font-size="13.0" text-anchor="middle" fill="#000" font-weight="bold" >shBRCA1</text>
<text x="268.60" y="571.80" font-size="12.4" text-anchor="middle" fill="#000" font-weight="bold" >HeLa</text>
<text x="363.30" y="571.80" font-size="13.0" text-anchor="middle" fill="#000" font-weight="bold" >shBRCA1</text>
<text x="35.60" y="605.40" font-size="11.2" text-anchor="middle" fill="#000" font-weight="bold" >0</text>
<text x="38.10" y="656.40" font-size="11.2" text-anchor="middle" fill="#000" font-weight="bold" >5</text>
<text x="31.90" y="711.80" font-size="11.2" text-anchor="middle" fill="#000" font-weight="bold" >7.5</text>
<text x="36.90" y="764.00" font-size="11.2" text-anchor="middle" fill="#000" font-weight="bold" >10</text>
<defs><radialGradient id="tg" cx="45%" cy="45%" r="60%"><stop offset="0" stop-color="#D6AE9E"/><stop offset="0.5" stop-color="#C7927F"/><stop offset="0.85" stop-color="#B0705F"/><stop offset="1" stop-color="#985A50"/></radialGradient><radialGradient id="tg2" cx="50%" cy="45%" r="62%"><stop offset="0" stop-color="#D9B2A2"/><stop offset="0.5" stop-color="#C99482"/><stop offset="0.85" stop-color="#B27262"/><stop offset="1" stop-color="#9A5C52"/></radialGradient><linearGradient id="bg" x1="0" y1="0" x2="1" y2="1"><stop offset="0" stop-color="#CBCCCC"/><stop offset="0.5" stop-color="#D3D4D4"/><stop offset="1" stop-color="#CECFCF"/></linearGradient><filter id="tex" x="0" y="0" width="100%" height="100%"><feTurbulence type="fractalNoise" baseFrequency="0.35" numOctaves="2" seed="5" result="n"/><feColorMatrix in="n" type="matrix" values="0 0 0 0 1  0 0 0 0 1  0 0 0 0 1  0 0 0 0.7 -0.32" result="w"/><feComposite in="w" in2="SourceGraphic" operator="in" result="wc"/><feMerge><feMergeNode in="SourceGraphic"/><feMergeNode in="wc"/></feMerge></filter><filter id="bl" x="-50%" y="-50%" width="200%" height="200%"><feGaussianBlur stdDeviation="1.2"/></filter><radialGradient id="tg3" cx="45%" cy="45%" r="62%"><stop offset="0" stop-color="#CF9C8C"/><stop offset="0.5" stop-color="#BC786A"/><stop offset="0.85" stop-color="#A65650"/><stop offset="1" stop-color="#924646"/></radialGradient></defs>
<rect x="47.6" y="575.7" width="361.0" height="215.3" fill="url(#bg)" filter="url(#tex)"/>
<line x1="48.50" y1="629.60" x2="407.00" y2="629.60" stroke="#FCFCFC" stroke-width="1.8" stroke-dasharray="5.2 4"/>
<line x1="48.50" y1="682.50" x2="407.00" y2="682.50" stroke="#FCFCFC" stroke-width="1.8" stroke-dasharray="5.2 4"/>
<line x1="48.50" y1="734.60" x2="407.00" y2="734.60" stroke="#FCFCFC" stroke-width="1.8" stroke-dasharray="5.2 4"/>
<line x1="132.80" y1="576.00" x2="132.80" y2="791.00" stroke="#FCFCFC" stroke-width="1.8" stroke-dasharray="5.2 4"/>
<line x1="223.00" y1="576.00" x2="223.00" y2="791.00" stroke="#FCFCFC" stroke-width="1.8" stroke-dasharray="5.2 4"/>
<line x1="317.20" y1="576.00" x2="317.20" y2="791.00" stroke="#FCFCFC" stroke-width="1.8" stroke-dasharray="5.2 4"/>
<path d="M82.47,607.50 C82.57,608.62 82.50,609.85 82.19,610.93 C81.87,612.01 81.26,613.08 80.58,613.97 C79.90,614.87 78.98,615.62 78.11,616.29 C77.25,616.96 76.31,617.48 75.41,617.99 C74.52,618.51 73.64,618.97 72.72,619.38 C71.80,619.79 70.88,620.19 69.91,620.46 C68.94,620.73 67.92,620.93 66.90,621.01 C65.88,621.08 64.83,621.03 63.78,620.91 C62.74,620.79 61.69,620.59 60.63,620.29 C59.58,619.98 58.48,619.63 57.48,619.11 C56.48,618.58 55.43,617.93 54.63,617.12 C53.84,616.30 53.13,615.27 52.71,614.21 C52.30,613.16 52.17,611.93 52.16,610.81 C52.15,609.69 52.44,608.55 52.67,607.50 C52.90,606.45 53.24,605.49 53.52,604.50 C53.80,603.51 54.01,602.54 54.35,601.56 C54.68,600.58 54.99,599.51 55.54,598.59 C56.08,597.67 56.77,596.73 57.60,596.04 C58.43,595.35 59.48,594.81 60.50,594.44 C61.52,594.07 62.66,593.94 63.73,593.84 C64.79,593.74 65.85,593.78 66.90,593.83 C67.95,593.88 68.98,593.96 70.00,594.15 C71.03,594.33 72.08,594.56 73.05,594.95 C74.03,595.34 74.99,595.86 75.84,596.48 C76.69,597.10 77.46,597.87 78.16,598.67 C78.86,599.47 79.48,600.35 80.05,601.27 C80.63,602.20 81.18,603.17 81.59,604.21 C81.99,605.24 82.37,606.38 82.47,607.50Z" fill="url(#tg3)"/>
<ellipse cx="59.52" cy="606.46" rx="1.92" ry="1.33" fill="#A83A3E" opacity="0.4" filter="url(#bl)"/>
<ellipse cx="65.70" cy="612.62" rx="2.01" ry="1.51" fill="#A83A3E" opacity="0.4" filter="url(#bl)"/>
<ellipse cx="68.93" cy="614.52" rx="2.78" ry="1.76" fill="#A83A3E" opacity="0.4" filter="url(#bl)"/>
<ellipse cx="68.23" cy="606.27" rx="5.07" ry="3.99" fill="#E8CBBB" opacity="0.35" filter="url(#bl)"/>
<circle cx="72.10" cy="604.50" r="0.7" fill="#F3E0D6" opacity="0.6"/>
<circle cx="61.74" cy="602.05" r="0.7" fill="#F3E0D6" opacity="0.6"/>
<circle cx="64.12" cy="612.00" r="0.7" fill="#F3E0D6" opacity="0.6"/>
<path d="M120.05,607.00 C119.96,607.98 119.73,608.95 119.49,609.88 C119.26,610.81 118.96,611.69 118.64,612.56 C118.32,613.44 117.99,614.32 117.56,615.14 C117.13,615.95 116.66,616.80 116.08,617.47 C115.50,618.14 114.80,618.75 114.08,619.14 C113.35,619.53 112.52,619.73 111.74,619.81 C110.96,619.89 110.15,619.76 109.40,619.62 C108.65,619.48 107.93,619.23 107.21,618.97 C106.50,618.71 105.81,618.44 105.13,618.08 C104.45,617.72 103.76,617.33 103.14,616.81 C102.52,616.29 101.91,615.67 101.41,614.97 C100.90,614.27 100.46,613.45 100.09,612.61 C99.72,611.76 99.43,610.85 99.19,609.91 C98.94,608.98 98.74,608.00 98.65,607.00 C98.55,606.00 98.49,604.93 98.60,603.92 C98.71,602.90 98.93,601.83 99.30,600.92 C99.66,600.00 100.21,599.13 100.80,598.43 C101.39,597.73 102.14,597.18 102.85,596.73 C103.56,596.28 104.33,595.99 105.06,595.73 C105.79,595.46 106.51,595.28 107.23,595.13 C107.96,594.98 108.67,594.87 109.40,594.84 C110.13,594.82 110.87,594.84 111.60,594.98 C112.32,595.11 113.06,595.34 113.77,595.66 C114.48,595.98 115.18,596.40 115.84,596.91 C116.50,597.42 117.15,598.02 117.71,598.72 C118.27,599.42 118.81,600.23 119.19,601.11 C119.57,601.98 119.87,602.99 120.01,603.97 C120.15,604.96 120.13,606.02 120.05,607.00Z" fill="url(#tg2)"/>
<ellipse cx="111.46" cy="605.96" rx="2.33" ry="2.02" fill="#A83A3E" opacity="0.4" filter="url(#bl)"/>
<ellipse cx="108.86" cy="604.14" rx="3.15" ry="2.18" fill="#A83A3E" opacity="0.4" filter="url(#bl)"/>
<ellipse cx="106.47" cy="608.06" rx="2.69" ry="2.43" fill="#A83A3E" opacity="0.4" filter="url(#bl)"/>
<ellipse cx="109.46" cy="606.82" rx="3.64" ry="3.64" fill="#E8CBBB" opacity="0.35" filter="url(#bl)"/>
<circle cx="114.39" cy="602.03" r="0.7" fill="#F3E0D6" opacity="0.6"/>
<circle cx="108.55" cy="610.34" r="0.7" fill="#F3E0D6" opacity="0.6"/>
<circle cx="105.78" cy="606.86" r="0.7" fill="#F3E0D6" opacity="0.6"/>
<path d="M164.98,609.40 C164.95,610.32 164.93,611.19 164.89,612.15 C164.86,613.11 164.94,614.13 164.79,615.16 C164.65,616.18 164.47,617.35 164.02,618.29 C163.56,619.23 162.87,620.19 162.06,620.82 C161.25,621.46 160.17,621.86 159.18,622.09 C158.18,622.32 157.09,622.24 156.11,622.20 C155.13,622.15 154.20,621.95 153.30,621.81 C152.40,621.66 151.54,621.54 150.68,621.33 C149.82,621.12 148.94,620.91 148.14,620.53 C147.35,620.16 146.56,619.65 145.89,619.06 C145.22,618.47 144.66,617.72 144.15,616.99 C143.63,616.26 143.22,615.47 142.78,614.67 C142.34,613.87 141.89,613.08 141.50,612.20 C141.11,611.32 140.65,610.39 140.42,609.40 C140.18,608.41 139.99,607.29 140.08,606.26 C140.16,605.23 140.46,604.13 140.92,603.20 C141.38,602.28 142.10,601.43 142.83,600.72 C143.56,600.01 144.45,599.45 145.30,598.96 C146.14,598.47 147.04,598.10 147.92,597.79 C148.81,597.48 149.71,597.25 150.60,597.11 C151.50,596.97 152.41,596.92 153.30,596.96 C154.19,596.99 155.08,597.12 155.95,597.31 C156.83,597.49 157.70,597.73 158.55,598.06 C159.41,598.38 160.29,598.75 161.07,599.27 C161.85,599.78 162.65,600.41 163.25,601.15 C163.85,601.89 164.34,602.81 164.64,603.72 C164.95,604.63 165.03,605.66 165.08,606.60 C165.14,607.55 165.01,608.48 164.98,609.40Z" fill="url(#tg)"/>
<ellipse cx="154.40" cy="608.77" rx="3.23" ry="2.52" fill="#A83A3E" opacity="0.4" filter="url(#bl)"/>
<ellipse cx="152.94" cy="611.75" rx="1.90" ry="2.18" fill="#A83A3E" opacity="0.4" filter="url(#bl)"/>
<ellipse cx="155.32" cy="616.45" rx="3.20" ry="1.60" fill="#A83A3E" opacity="0.4" filter="url(#bl)"/>
<ellipse cx="151.86" cy="610.71" rx="4.38" ry="3.64" fill="#E8CBBB" opacity="0.35" filter="url(#bl)"/>
<circle cx="147.33" cy="608.90" r="0.7" fill="#F3E0D6" opacity="0.6"/>
<circle cx="149.15" cy="604.42" r="0.7" fill="#F3E0D6" opacity="0.6"/>
<circle cx="147.79" cy="612.89" r="0.7" fill="#F3E0D6" opacity="0.6"/>
<path d="M201.51,607.40 C201.55,608.14 201.50,608.93 201.30,609.65 C201.09,610.37 200.72,611.09 200.26,611.70 C199.80,612.30 199.16,612.83 198.55,613.28 C197.94,613.74 197.24,614.07 196.59,614.43 C195.95,614.79 195.33,615.10 194.68,615.44 C194.03,615.78 193.39,616.17 192.68,616.44 C191.97,616.72 191.18,617.02 190.40,617.10 C189.62,617.19 188.75,617.14 187.99,616.96 C187.23,616.77 186.49,616.38 185.83,616.00 C185.16,615.61 184.60,615.10 184.03,614.63 C183.45,614.16 182.91,613.69 182.39,613.18 C181.86,612.67 181.29,612.15 180.87,611.55 C180.45,610.95 180.06,610.26 179.88,609.57 C179.70,608.88 179.71,608.10 179.81,607.40 C179.91,606.70 180.23,606.01 180.48,605.35 C180.74,604.70 181.07,604.10 181.36,603.46 C181.64,602.82 181.86,602.15 182.21,601.49 C182.55,600.83 182.90,600.07 183.43,599.49 C183.96,598.91 184.65,598.33 185.40,598.01 C186.15,597.69 187.09,597.57 187.92,597.58 C188.76,597.60 189.63,597.88 190.40,598.10 C191.17,598.33 191.85,598.69 192.53,598.95 C193.22,599.21 193.84,599.43 194.51,599.68 C195.18,599.92 195.89,600.11 196.55,600.42 C197.22,600.73 197.93,601.09 198.51,601.55 C199.10,602.01 199.64,602.58 200.06,603.19 C200.49,603.80 200.82,604.50 201.06,605.20 C201.31,605.90 201.47,606.66 201.51,607.40Z" fill="url(#tg2)"/>
<ellipse cx="194.09" cy="611.20" rx="2.27" ry="1.78" fill="#A83A3E" opacity="0.4" filter="url(#bl)"/>
<ellipse cx="188.77" cy="611.41" rx="3.43" ry="1.41" fill="#A83A3E" opacity="0.4" filter="url(#bl)"/>
<ellipse cx="186.66" cy="604.60" rx="2.20" ry="1.88" fill="#A83A3E" opacity="0.4" filter="url(#bl)"/>
<ellipse cx="189.94" cy="607.20" rx="3.67" ry="2.66" fill="#E8CBBB" opacity="0.35" filter="url(#bl)"/>
<circle cx="185.19" cy="606.63" r="0.7" fill="#F3E0D6" opacity="0.6"/>
<circle cx="189.03" cy="608.03" r="0.7" fill="#F3E0D6" opacity="0.6"/>
<circle cx="195.16" cy="609.21" r="0.7" fill="#F3E0D6" opacity="0.6"/>
<path d="M269.20,608.00 C269.03,608.98 268.85,609.91 268.60,610.83 C268.35,611.75 268.07,612.63 267.72,613.51 C267.38,614.39 266.99,615.25 266.53,616.10 C266.07,616.95 265.58,617.83 264.97,618.63 C264.36,619.43 263.67,620.28 262.87,620.91 C262.07,621.54 261.12,622.12 260.15,622.41 C259.19,622.70 258.10,622.76 257.10,622.65 C256.10,622.55 255.10,622.15 254.18,621.77 C253.26,621.40 252.41,620.88 251.56,620.40 C250.70,619.92 249.86,619.46 249.03,618.90 C248.20,618.34 247.31,617.77 246.59,617.03 C245.87,616.28 245.16,615.38 244.73,614.42 C244.29,613.45 244.05,612.30 243.96,611.23 C243.87,610.16 244.04,609.04 244.19,608.00 C244.33,606.96 244.59,605.98 244.82,604.98 C245.06,603.99 245.26,603.00 245.60,602.04 C245.94,601.08 246.31,600.04 246.88,599.22 C247.45,598.40 248.21,597.62 249.03,597.11 C249.85,596.59 250.87,596.32 251.78,596.11 C252.70,595.90 253.64,595.96 254.52,595.84 C255.41,595.72 256.20,595.62 257.10,595.41 C258.00,595.20 258.92,594.78 259.94,594.58 C260.97,594.38 262.18,594.08 263.27,594.20 C264.36,594.32 265.59,594.67 266.50,595.31 C267.41,595.94 268.21,596.98 268.73,598.01 C269.25,599.04 269.49,600.35 269.63,601.50 C269.78,602.65 269.68,603.84 269.60,604.93 C269.53,606.01 269.37,607.02 269.20,608.00Z" fill="url(#tg3)"/>
<ellipse cx="255.56" cy="606.44" rx="1.98" ry="2.09" fill="#A83A3E" opacity="0.4" filter="url(#bl)"/>
<ellipse cx="250.84" cy="601.34" rx="2.15" ry="1.43" fill="#A83A3E" opacity="0.4" filter="url(#bl)"/>
<ellipse cx="254.81" cy="601.11" rx="1.80" ry="1.41" fill="#A83A3E" opacity="0.4" filter="url(#bl)"/>
<ellipse cx="254.31" cy="608.13" rx="4.55" ry="3.92" fill="#E8CBBB" opacity="0.35" filter="url(#bl)"/>
<circle cx="250.93" cy="613.24" r="0.7" fill="#F3E0D6" opacity="0.6"/>
<circle cx="258.58" cy="603.08" r="0.7" fill="#F3E0D6" opacity="0.6"/>
<circle cx="253.88" cy="605.86" r="0.7" fill="#F3E0D6" opacity="0.6"/>
<path d="M304.85,603.60 C304.93,604.49 304.94,605.47 304.81,606.35 C304.67,607.23 304.38,608.14 304.02,608.89 C303.65,609.64 303.12,610.30 302.60,610.83 C302.09,611.37 301.48,611.75 300.92,612.11 C300.36,612.48 299.80,612.73 299.25,613.00 C298.70,613.28 298.17,613.53 297.61,613.76 C297.06,613.99 296.50,614.24 295.90,614.39 C295.30,614.53 294.67,614.65 294.04,614.63 C293.41,614.61 292.73,614.51 292.10,614.27 C291.47,614.02 290.82,613.66 290.26,613.17 C289.69,612.69 289.14,612.06 288.72,611.35 C288.29,610.64 287.94,609.79 287.71,608.94 C287.48,608.08 287.38,607.13 287.35,606.24 C287.32,605.35 287.42,604.45 287.53,603.60 C287.63,602.75 287.81,601.95 287.99,601.16 C288.17,600.36 288.35,599.60 288.58,598.83 C288.82,598.07 289.06,597.29 289.39,596.58 C289.73,595.87 290.12,595.15 290.59,594.59 C291.05,594.02 291.61,593.52 292.19,593.17 C292.76,592.81 293.40,592.59 294.02,592.45 C294.64,592.30 295.28,592.27 295.90,592.29 C296.52,592.31 297.15,592.39 297.76,592.56 C298.37,592.73 298.99,592.97 299.56,593.31 C300.13,593.66 300.69,594.11 301.18,594.64 C301.67,595.17 302.11,595.81 302.50,596.47 C302.90,597.14 303.23,597.87 303.53,598.63 C303.84,599.38 304.12,600.16 304.34,600.99 C304.56,601.82 304.77,602.71 304.85,603.60Z" fill="url(#tg2)"/>
<ellipse cx="294.43" cy="600.62" rx="3.21" ry="1.43" fill="#A83A3E" opacity="0.4" filter="url(#bl)"/>
<ellipse cx="291.44" cy="609.30" rx="2.70" ry="1.41" fill="#A83A3E" opacity="0.4" filter="url(#bl)"/>
<ellipse cx="296.30" cy="597.62" rx="2.70" ry="2.57" fill="#A83A3E" opacity="0.4" filter="url(#bl)"/>
<ellipse cx="296.34" cy="604.85" rx="2.97" ry="3.22" fill="#E8CBBB" opacity="0.35" filter="url(#bl)"/>
<circle cx="293.87" cy="602.07" r="0.7" fill="#F3E0D6" opacity="0.6"/>
<circle cx="293.07" cy="606.73" r="0.7" fill="#F3E0D6" opacity="0.6"/>
<circle cx="296.18" cy="606.81" r="0.7" fill="#F3E0D6" opacity="0.6"/>
<path d="M341.74,599.20 C341.84,599.99 341.90,600.87 341.73,601.65 C341.56,602.43 341.19,603.24 340.70,603.87 C340.22,604.50 339.48,605.02 338.81,605.43 C338.14,605.83 337.35,606.05 336.67,606.31 C335.99,606.57 335.36,606.73 334.74,606.97 C334.12,607.22 333.58,607.50 332.96,607.77 C332.33,608.04 331.70,608.38 331.00,608.58 C330.30,608.79 329.53,608.97 328.77,608.98 C328.01,609.00 327.18,608.90 326.43,608.68 C325.68,608.46 324.92,608.10 324.26,607.65 C323.61,607.20 322.98,606.61 322.51,605.97 C322.04,605.33 321.66,604.56 321.44,603.81 C321.21,603.05 321.16,602.21 321.16,601.45 C321.16,600.68 321.32,599.92 321.43,599.20 C321.54,598.48 321.69,597.81 321.81,597.10 C321.93,596.39 321.98,595.67 322.16,594.94 C322.33,594.21 322.50,593.39 322.86,592.71 C323.23,592.03 323.75,591.33 324.36,590.87 C324.97,590.41 325.79,590.11 326.55,589.95 C327.30,589.79 328.14,589.88 328.88,589.91 C329.62,589.95 330.31,590.11 331.00,590.17 C331.69,590.24 332.33,590.24 333.03,590.29 C333.73,590.34 334.48,590.31 335.20,590.47 C335.92,590.63 336.70,590.86 337.35,591.24 C337.99,591.63 338.58,592.18 339.07,592.77 C339.55,593.35 339.91,594.06 340.26,594.74 C340.60,595.43 340.88,596.15 341.13,596.89 C341.37,597.63 341.64,598.41 341.74,599.20Z" fill="url(#tg)"/>
<ellipse cx="327.99" cy="599.39" rx="2.40" ry="1.24" fill="#A83A3E" opacity="0.4" filter="url(#bl)"/>
<ellipse cx="325.81" cy="596.77" rx="2.24" ry="2.17" fill="#A83A3E" opacity="0.4" filter="url(#bl)"/>
<ellipse cx="336.02" cy="598.62" rx="3.39" ry="2.58" fill="#A83A3E" opacity="0.4" filter="url(#bl)"/>
<ellipse cx="331.84" cy="599.29" rx="3.50" ry="2.80" fill="#E8CBBB" opacity="0.35" filter="url(#bl)"/>
<circle cx="328.20" cy="596.47" r="0.7" fill="#F3E0D6" opacity="0.6"/>
<circle cx="327.97" cy="596.24" r="0.7" fill="#F3E0D6" opacity="0.6"/>
<circle cx="332.24" cy="603.20" r="0.7" fill="#F3E0D6" opacity="0.6"/>
<path d="M378.19,599.20 C378.07,599.84 377.97,600.42 377.86,601.04 C377.74,601.66 377.70,602.30 377.51,602.93 C377.31,603.56 377.08,604.23 376.70,604.80 C376.33,605.37 375.82,605.92 375.26,606.38 C374.70,606.83 374.03,607.21 373.36,607.53 C372.68,607.85 371.95,608.12 371.21,608.31 C370.47,608.51 369.68,608.66 368.90,608.69 C368.12,608.71 367.30,608.65 366.55,608.45 C365.81,608.25 365.08,607.90 364.46,607.51 C363.83,607.11 363.29,606.58 362.81,606.08 C362.32,605.58 361.92,605.03 361.52,604.49 C361.13,603.96 360.76,603.43 360.44,602.87 C360.12,602.30 359.80,601.72 359.60,601.11 C359.39,600.50 359.24,599.85 359.19,599.20 C359.14,598.55 359.20,597.89 359.30,597.23 C359.39,596.57 359.56,595.91 359.78,595.25 C360.01,594.59 360.27,593.90 360.66,593.28 C361.05,592.67 361.52,592.02 362.12,591.55 C362.72,591.09 363.49,590.70 364.25,590.51 C365.01,590.32 365.89,590.34 366.67,590.40 C367.44,590.46 368.19,590.73 368.90,590.88 C369.61,591.04 370.21,591.21 370.90,591.31 C371.59,591.41 372.28,591.38 373.03,591.48 C373.78,591.57 374.66,591.60 375.40,591.86 C376.14,592.12 376.95,592.52 377.48,593.05 C378.00,593.57 378.37,594.32 378.56,595.01 C378.75,595.71 378.66,596.51 378.60,597.21 C378.53,597.91 378.31,598.56 378.19,599.20Z" fill="url(#tg2)"/>
<ellipse cx="371.65" cy="598.98" rx="2.10" ry="2.30" fill="#A83A3E" opacity="0.4" filter="url(#bl)"/>
<ellipse cx="367.06" cy="602.18" rx="3.45" ry="1.75" fill="#A83A3E" opacity="0.4" filter="url(#bl)"/>
<ellipse cx="367.82" cy="603.62" rx="3.03" ry="1.44" fill="#A83A3E" opacity="0.4" filter="url(#bl)"/>
<ellipse cx="366.84" cy="598.71" rx="3.50" ry="2.52" fill="#E8CBBB" opacity="0.35" filter="url(#bl)"/>
<circle cx="372.95" cy="601.96" r="0.7" fill="#F3E0D6" opacity="0.6"/>
<circle cx="365.36" cy="602.14" r="0.7" fill="#F3E0D6" opacity="0.6"/>
<circle cx="373.70" cy="600.62" r="0.7" fill="#F3E0D6" opacity="0.6"/>
<path d="M370.26,614.40 C370.26,614.98 370.20,615.60 370.06,616.13 C369.92,616.67 369.68,617.18 369.43,617.60 C369.18,618.03 368.86,618.35 368.58,618.68 C368.31,619.02 368.03,619.28 367.77,619.62 C367.51,619.95 367.30,620.34 367.02,620.70 C366.75,621.06 366.46,621.51 366.12,621.78 C365.79,622.05 365.38,622.30 365.00,622.34 C364.62,622.37 364.20,622.23 363.84,622.01 C363.49,621.79 363.17,621.39 362.87,621.04 C362.57,620.70 362.33,620.29 362.06,619.93 C361.79,619.58 361.52,619.26 361.25,618.89 C360.98,618.52 360.67,618.15 360.43,617.70 C360.19,617.25 359.95,616.73 359.81,616.18 C359.67,615.63 359.60,614.99 359.60,614.40 C359.60,613.81 359.68,613.18 359.79,612.62 C359.91,612.05 360.08,611.49 360.28,610.99 C360.49,610.50 360.74,610.02 361.02,609.64 C361.30,609.26 361.64,608.93 361.97,608.70 C362.30,608.47 362.68,608.35 363.02,608.24 C363.37,608.13 363.70,608.11 364.03,608.03 C364.36,607.95 364.66,607.87 365.00,607.76 C365.34,607.66 365.69,607.48 366.06,607.42 C366.44,607.36 366.87,607.28 367.25,607.39 C367.64,607.49 368.05,607.72 368.38,608.04 C368.71,608.37 368.99,608.86 369.22,609.35 C369.45,609.84 369.61,610.41 369.76,610.96 C369.90,611.51 370.02,612.08 370.11,612.65 C370.19,613.22 370.27,613.82 370.26,614.40Z" fill="url(#tg)"/>
<ellipse cx="364.64" cy="617.47" rx="3.20" ry="1.50" fill="#A83A3E" opacity="0.4" filter="url(#bl)"/>
<ellipse cx="363.64" cy="612.69" rx="2.21" ry="2.02" fill="#A83A3E" opacity="0.4" filter="url(#bl)"/>
<ellipse cx="363.68" cy="613.73" rx="2.02" ry="2.47" fill="#A83A3E" opacity="0.4" filter="url(#bl)"/>
<ellipse cx="364.37" cy="614.68" rx="1.75" ry="2.10" fill="#E8CBBB" opacity="0.35" filter="url(#bl)"/>
<circle cx="365.42" cy="617.43" r="0.7" fill="#F3E0D6" opacity="0.6"/>
<circle cx="364.60" cy="617.53" r="0.7" fill="#F3E0D6" opacity="0.6"/>
<circle cx="365.01" cy="614.64" r="0.7" fill="#F3E0D6" opacity="0.6"/>
<path d="M83.19,654.00 C83.30,654.83 83.24,655.74 83.00,656.55 C82.77,657.36 82.30,658.17 81.79,658.89 C81.28,659.60 80.62,660.25 79.96,660.86 C79.30,661.46 78.58,662.02 77.82,662.51 C77.05,663.00 76.24,663.46 75.37,663.79 C74.51,664.12 73.56,664.36 72.63,664.49 C71.70,664.61 70.73,664.57 69.80,664.52 C68.87,664.46 67.98,664.29 67.06,664.15 C66.15,664.00 65.25,663.86 64.30,663.66 C63.36,663.46 62.33,663.28 61.39,662.93 C60.45,662.57 59.41,662.13 58.66,661.52 C57.91,660.91 57.24,660.09 56.87,659.27 C56.50,658.45 56.42,657.45 56.46,656.58 C56.50,655.70 56.84,654.80 57.12,654.00 C57.40,653.20 57.80,652.47 58.13,651.75 C58.47,651.02 58.77,650.35 59.12,649.65 C59.48,648.95 59.81,648.24 60.27,647.57 C60.73,646.89 61.26,646.21 61.89,645.61 C62.53,645.02 63.29,644.45 64.11,643.99 C64.92,643.54 65.84,643.13 66.79,642.85 C67.74,642.58 68.79,642.37 69.80,642.33 C70.81,642.29 71.90,642.37 72.87,642.62 C73.84,642.86 74.80,643.30 75.61,643.79 C76.42,644.28 77.11,644.95 77.74,645.57 C78.37,646.20 78.87,646.88 79.39,647.53 C79.92,648.18 80.42,648.80 80.91,649.47 C81.40,650.15 81.95,650.83 82.33,651.58 C82.71,652.34 83.07,653.17 83.19,654.00Z" fill="url(#tg2)"/>
<ellipse cx="73.02" cy="654.68" rx="2.35" ry="1.93" fill="#A83A3E" opacity="0.4" filter="url(#bl)"/>
<ellipse cx="70.59" cy="657.44" rx="1.98" ry="1.98" fill="#A83A3E" opacity="0.4" filter="url(#bl)"/>
<ellipse cx="66.20" cy="651.30" rx="3.11" ry="1.91" fill="#A83A3E" opacity="0.4" filter="url(#bl)"/>
<ellipse cx="69.11" cy="655.41" rx="4.55" ry="3.08" fill="#E8CBBB" opacity="0.35" filter="url(#bl)"/>
<circle cx="75.16" cy="653.38" r="0.7" fill="#F3E0D6" opacity="0.6"/>
<circle cx="71.26" cy="654.06" r="0.7" fill="#F3E0D6" opacity="0.6"/>
<circle cx="69.96" cy="656.12" r="0.7" fill="#F3E0D6" opacity="0.6"/>
<path d="M128.30,653.20 C127.98,654.13 127.49,654.98 127.06,655.78 C126.62,656.58 126.13,657.28 125.67,658.00 C125.22,658.73 124.79,659.40 124.33,660.12 C123.86,660.84 123.44,661.60 122.88,662.34 C122.32,663.07 121.72,663.88 120.96,664.51 C120.21,665.14 119.31,665.77 118.37,666.12 C117.42,666.46 116.31,666.63 115.30,666.58 C114.29,666.52 113.23,666.18 112.31,665.80 C111.38,665.42 110.55,664.82 109.74,664.29 C108.94,663.76 108.23,663.19 107.48,662.62 C106.74,662.06 105.97,661.53 105.27,660.89 C104.56,660.25 103.79,659.58 103.24,658.78 C102.69,657.99 102.20,657.06 101.96,656.13 C101.72,655.20 101.69,654.15 101.79,653.20 C101.90,652.25 102.23,651.29 102.56,650.40 C102.89,649.51 103.32,648.68 103.77,647.86 C104.23,647.05 104.69,646.24 105.27,645.51 C105.85,644.78 106.50,644.05 107.25,643.50 C108.00,642.94 108.90,642.48 109.78,642.19 C110.67,641.89 111.66,641.80 112.58,641.74 C113.50,641.67 114.40,641.77 115.30,641.80 C116.20,641.83 117.05,641.86 117.98,641.90 C118.92,641.93 119.89,641.89 120.90,642.02 C121.91,642.15 123.04,642.29 124.03,642.68 C125.01,643.07 126.05,643.65 126.80,644.38 C127.56,645.11 128.19,646.09 128.55,647.07 C128.91,648.04 129.01,649.18 128.97,650.20 C128.92,651.22 128.62,652.27 128.30,653.20Z" fill="url(#tg)"/>
<ellipse cx="116.15" cy="659.29" rx="3.23" ry="1.39" fill="#A83A3E" opacity="0.4" filter="url(#bl)"/>
<ellipse cx="109.89" cy="652.40" rx="1.92" ry="1.54" fill="#A83A3E" opacity="0.4" filter="url(#bl)"/>
<ellipse cx="109.20" cy="655.53" rx="3.13" ry="2.46" fill="#A83A3E" opacity="0.4" filter="url(#bl)"/>
<ellipse cx="112.75" cy="654.64" rx="4.55" ry="3.50" fill="#E8CBBB" opacity="0.35" filter="url(#bl)"/>
<circle cx="117.38" cy="648.74" r="0.7" fill="#F3E0D6" opacity="0.6"/>
<circle cx="120.28" cy="659.04" r="0.7" fill="#F3E0D6" opacity="0.6"/>
<circle cx="111.65" cy="658.86" r="0.7" fill="#F3E0D6" opacity="0.6"/>
<path d="M165.42,654.00 C165.38,654.94 165.31,655.88 165.10,656.78 C164.89,657.67 164.58,658.58 164.16,659.37 C163.74,660.16 163.17,660.89 162.57,661.52 C161.98,662.15 161.28,662.65 160.62,663.16 C159.95,663.66 159.28,664.10 158.58,664.56 C157.88,665.02 157.19,665.53 156.41,665.94 C155.63,666.34 154.77,666.80 153.90,666.99 C153.03,667.17 152.03,667.25 151.16,667.06 C150.28,666.87 149.38,666.41 148.65,665.86 C147.91,665.31 147.29,664.51 146.73,663.77 C146.17,663.04 145.75,662.22 145.30,661.45 C144.85,660.68 144.44,659.95 144.03,659.17 C143.62,658.38 143.17,657.60 142.85,656.74 C142.53,655.88 142.21,654.94 142.10,654.00 C141.98,653.06 141.98,652.03 142.14,651.08 C142.30,650.14 142.64,649.17 143.06,648.33 C143.48,647.48 144.06,646.68 144.68,646.01 C145.29,645.33 146.02,644.74 146.76,644.27 C147.50,643.80 148.31,643.45 149.11,643.18 C149.90,642.91 150.72,642.77 151.52,642.65 C152.31,642.52 153.09,642.47 153.90,642.42 C154.71,642.37 155.51,642.31 156.35,642.35 C157.19,642.38 158.09,642.40 158.94,642.62 C159.80,642.83 160.73,643.15 161.49,643.65 C162.26,644.15 163.00,644.86 163.55,645.64 C164.10,646.41 164.50,647.38 164.80,648.30 C165.09,649.22 165.23,650.21 165.33,651.16 C165.44,652.11 165.46,653.06 165.42,654.00Z" fill="url(#tg2)"/>
<ellipse cx="150.05" cy="651.50" rx="3.03" ry="1.23" fill="#A83A3E" opacity="0.4" filter="url(#bl)"/>
<ellipse cx="154.58" cy="653.18" rx="1.83" ry="1.66" fill="#A83A3E" opacity="0.4" filter="url(#bl)"/>
<ellipse cx="155.47" cy="654.17" rx="1.91" ry="2.58" fill="#A83A3E" opacity="0.4" filter="url(#bl)"/>
<ellipse cx="154.20" cy="656.39" rx="4.02" ry="3.50" fill="#E8CBBB" opacity="0.35" filter="url(#bl)"/>
<circle cx="149.35" cy="651.07" r="0.7" fill="#F3E0D6" opacity="0.6"/>
<circle cx="148.61" cy="657.49" r="0.7" fill="#F3E0D6" opacity="0.6"/>
<circle cx="151.26" cy="649.37" r="0.7" fill="#F3E0D6" opacity="0.6"/>
<path d="M206.04,655.30 C206.18,656.24 206.24,657.26 206.14,658.23 C206.04,659.20 205.79,660.21 205.43,661.14 C205.06,662.07 204.56,662.99 203.95,663.79 C203.33,664.58 202.58,665.35 201.76,665.91 C200.94,666.47 199.96,666.91 199.01,667.17 C198.06,667.42 197.02,667.44 196.07,667.42 C195.11,667.41 194.20,667.18 193.30,667.07 C192.40,666.95 191.60,666.81 190.69,666.72 C189.79,666.63 188.87,666.67 187.89,666.54 C186.91,666.41 185.78,666.32 184.81,665.94 C183.84,665.56 182.80,665.00 182.07,664.26 C181.34,663.52 180.77,662.49 180.43,661.50 C180.09,660.51 180.05,659.36 180.04,658.33 C180.03,657.29 180.21,656.28 180.36,655.30 C180.51,654.32 180.68,653.39 180.93,652.48 C181.18,651.56 181.43,650.62 181.86,649.79 C182.28,648.95 182.83,648.13 183.47,647.46 C184.10,646.78 184.91,646.24 185.68,645.74 C186.45,645.24 187.27,644.89 188.08,644.47 C188.90,644.05 189.67,643.63 190.54,643.22 C191.41,642.81 192.32,642.30 193.30,642.02 C194.28,641.74 195.41,641.48 196.44,641.56 C197.47,641.63 198.58,641.96 199.47,642.48 C200.36,643.00 201.15,643.85 201.78,644.66 C202.41,645.48 202.83,646.47 203.25,647.36 C203.68,648.25 203.98,649.13 204.32,649.99 C204.66,650.86 205.02,651.68 205.30,652.56 C205.59,653.44 205.90,654.36 206.04,655.30Z" fill="url(#tg)"/>
<ellipse cx="187.43" cy="648.97" rx="2.97" ry="1.80" fill="#A83A3E" opacity="0.4" filter="url(#bl)"/>
<ellipse cx="187.19" cy="661.57" rx="2.88" ry="2.32" fill="#A83A3E" opacity="0.4" filter="url(#bl)"/>
<ellipse cx="187.35" cy="660.39" rx="1.91" ry="2.41" fill="#A83A3E" opacity="0.4" filter="url(#bl)"/>
<ellipse cx="192.11" cy="655.32" rx="4.55" ry="3.64" fill="#E8CBBB" opacity="0.35" filter="url(#bl)"/>
<circle cx="193.99" cy="660.85" r="0.7" fill="#F3E0D6" opacity="0.6"/>
<circle cx="190.28" cy="650.48" r="0.7" fill="#F3E0D6" opacity="0.6"/>
<circle cx="193.65" cy="651.90" r="0.7" fill="#F3E0D6" opacity="0.6"/>
<path d="M271.54,658.50 C271.76,659.48 271.80,660.62 271.57,661.60 C271.35,662.58 270.81,663.57 270.21,664.38 C269.61,665.19 268.76,665.86 267.98,666.46 C267.20,667.05 266.34,667.49 265.53,667.94 C264.72,668.39 263.93,668.77 263.12,669.13 C262.31,669.49 261.50,669.84 260.65,670.10 C259.79,670.35 258.90,670.57 258.00,670.66 C257.10,670.74 256.15,670.74 255.24,670.61 C254.32,670.48 253.38,670.23 252.52,669.87 C251.67,669.51 250.81,669.01 250.08,668.43 C249.35,667.84 248.69,667.12 248.15,666.36 C247.61,665.59 247.20,664.72 246.87,663.86 C246.53,663.00 246.32,662.10 246.14,661.21 C245.96,660.31 245.84,659.42 245.77,658.50 C245.70,657.58 245.64,656.64 245.73,655.70 C245.83,654.76 245.98,653.77 246.32,652.88 C246.66,651.98 247.17,651.09 247.78,650.35 C248.39,649.61 249.19,648.98 249.98,648.45 C250.78,647.92 251.68,647.54 252.55,647.19 C253.43,646.84 254.32,646.56 255.23,646.35 C256.13,646.14 257.07,645.94 258.00,645.92 C258.93,645.89 259.92,645.95 260.81,646.20 C261.69,646.46 262.58,646.92 263.32,647.44 C264.07,647.97 264.69,648.70 265.28,649.37 C265.87,650.03 266.33,650.75 266.86,651.43 C267.40,652.11 267.94,652.73 268.50,653.44 C269.07,654.15 269.76,654.86 270.26,655.70 C270.77,656.54 271.32,657.52 271.54,658.50Z" fill="url(#tg3)"/>
<ellipse cx="258.00" cy="654.07" rx="2.39" ry="1.23" fill="#A83A3E" opacity="0.4" filter="url(#bl)"/>
<ellipse cx="254.57" cy="651.84" rx="3.05" ry="1.97" fill="#A83A3E" opacity="0.4" filter="url(#bl)"/>
<ellipse cx="253.73" cy="658.15" rx="3.39" ry="1.35" fill="#A83A3E" opacity="0.4" filter="url(#bl)"/>
<ellipse cx="258.46" cy="658.87" rx="4.38" ry="3.50" fill="#E8CBBB" opacity="0.35" filter="url(#bl)"/>
<circle cx="257.94" cy="662.68" r="0.7" fill="#F3E0D6" opacity="0.6"/>
<circle cx="256.66" cy="658.58" r="0.7" fill="#F3E0D6" opacity="0.6"/>
<circle cx="260.35" cy="664.53" r="0.7" fill="#F3E0D6" opacity="0.6"/>
<path d="M311.42,658.50 C311.40,659.09 311.35,659.66 311.23,660.25 C311.11,660.83 310.99,661.45 310.69,662.02 C310.38,662.60 309.99,663.21 309.41,663.71 C308.83,664.20 308.06,664.67 307.23,665.00 C306.40,665.34 305.39,665.56 304.45,665.72 C303.50,665.87 302.50,665.90 301.56,665.94 C300.62,665.97 299.71,665.95 298.80,665.93 C297.89,665.90 297.00,665.88 296.09,665.80 C295.18,665.73 294.25,665.64 293.34,665.47 C292.44,665.30 291.51,665.08 290.67,664.77 C289.83,664.47 289.01,664.09 288.30,663.65 C287.60,663.22 286.94,662.71 286.42,662.17 C285.91,661.63 285.47,661.02 285.22,660.41 C284.97,659.80 284.86,659.13 284.93,658.50 C285.00,657.87 285.27,657.23 285.65,656.65 C286.03,656.08 286.61,655.54 287.20,655.06 C287.78,654.58 288.49,654.17 289.16,653.77 C289.84,653.37 290.53,653.02 291.26,652.68 C291.98,652.34 292.70,652.00 293.49,651.72 C294.28,651.43 295.12,651.16 296.01,650.97 C296.89,650.78 297.85,650.64 298.80,650.59 C299.75,650.53 300.75,650.55 301.71,650.64 C302.68,650.73 303.66,650.89 304.58,651.11 C305.50,651.34 306.43,651.63 307.23,651.99 C308.03,652.36 308.80,652.81 309.39,653.30 C309.99,653.79 310.46,654.38 310.79,654.95 C311.11,655.52 311.26,656.14 311.37,656.74 C311.47,657.33 311.44,657.91 311.42,658.50Z" fill="url(#tg)"/>
<ellipse cx="292.66" cy="660.62" rx="2.23" ry="1.43" fill="#A83A3E" opacity="0.4" filter="url(#bl)"/>
<ellipse cx="292.86" cy="661.50" rx="3.28" ry="2.14" fill="#A83A3E" opacity="0.4" filter="url(#bl)"/>
<ellipse cx="295.68" cy="656.23" rx="2.30" ry="1.84" fill="#A83A3E" opacity="0.4" filter="url(#bl)"/>
<ellipse cx="296.27" cy="658.77" rx="4.55" ry="2.24" fill="#E8CBBB" opacity="0.35" filter="url(#bl)"/>
<circle cx="295.72" cy="662.19" r="0.7" fill="#F3E0D6" opacity="0.6"/>
<circle cx="304.94" cy="658.88" r="0.7" fill="#F3E0D6" opacity="0.6"/>
<circle cx="295.48" cy="662.23" r="0.7" fill="#F3E0D6" opacity="0.6"/>
<path d="M348.20,656.70 C348.10,657.61 347.75,658.55 347.38,659.37 C347.00,660.18 346.45,660.92 345.94,661.60 C345.43,662.29 344.88,662.89 344.32,663.47 C343.77,664.06 343.22,664.61 342.61,665.11 C342.01,665.60 341.37,666.07 340.69,666.46 C340.01,666.84 339.29,667.16 338.54,667.41 C337.79,667.66 337.00,667.84 336.20,667.95 C335.40,668.06 334.55,668.13 333.72,668.07 C332.88,668.00 331.99,667.87 331.20,667.56 C330.41,667.24 329.60,666.77 328.97,666.18 C328.34,665.59 327.81,664.80 327.41,664.03 C327.00,663.26 326.77,662.38 326.53,661.57 C326.29,660.75 326.15,659.95 325.96,659.14 C325.77,658.33 325.55,657.55 325.40,656.70 C325.25,655.85 325.06,654.94 325.09,654.05 C325.12,653.16 325.25,652.18 325.58,651.35 C325.92,650.53 326.49,649.74 327.11,649.12 C327.73,648.50 328.54,648.04 329.29,647.65 C330.05,647.25 330.85,647.01 331.62,646.76 C332.39,646.51 333.13,646.30 333.89,646.14 C334.66,645.97 335.42,645.81 336.20,645.78 C336.98,645.75 337.78,645.79 338.55,645.96 C339.31,646.12 340.07,646.41 340.78,646.75 C341.50,647.08 342.18,647.51 342.86,647.97 C343.54,648.42 344.22,648.90 344.86,649.48 C345.50,650.05 346.19,650.67 346.71,651.41 C347.23,652.14 347.73,653.01 347.98,653.89 C348.23,654.77 348.30,655.79 348.20,656.70Z" fill="url(#tg3)"/>
<ellipse cx="330.21" cy="653.72" rx="1.95" ry="1.76" fill="#A83A3E" opacity="0.4" filter="url(#bl)"/>
<ellipse cx="330.65" cy="650.66" rx="2.32" ry="1.53" fill="#A83A3E" opacity="0.4" filter="url(#bl)"/>
<ellipse cx="337.24" cy="657.07" rx="3.08" ry="2.12" fill="#A83A3E" opacity="0.4" filter="url(#bl)"/>
<ellipse cx="336.21" cy="658.58" rx="3.85" ry="3.22" fill="#E8CBBB" opacity="0.35" filter="url(#bl)"/>
<circle cx="334.98" cy="654.70" r="0.7" fill="#F3E0D6" opacity="0.6"/>
<circle cx="341.53" cy="652.67" r="0.7" fill="#F3E0D6" opacity="0.6"/>
<circle cx="338.67" cy="658.35" r="0.7" fill="#F3E0D6" opacity="0.6"/>
<path d="M380.68,658.20 C380.80,658.98 380.97,659.77 381.04,660.63 C381.10,661.48 381.20,662.44 381.06,663.33 C380.91,664.22 380.64,665.21 380.15,665.98 C379.67,666.74 378.92,667.44 378.14,667.90 C377.36,668.36 376.36,668.59 375.47,668.73 C374.58,668.86 373.65,668.77 372.80,668.72 C371.96,668.67 371.18,668.54 370.40,668.43 C369.62,668.32 368.89,668.23 368.15,668.07 C367.41,667.90 366.66,667.72 365.96,667.42 C365.26,667.13 364.57,666.74 363.95,666.29 C363.32,665.84 362.75,665.30 362.21,664.73 C361.66,664.17 361.14,663.56 360.66,662.89 C360.18,662.22 359.68,661.51 359.33,660.73 C358.99,659.94 358.66,659.06 358.58,658.20 C358.49,657.34 358.57,656.39 358.82,655.56 C359.07,654.73 359.57,653.92 360.08,653.23 C360.59,652.54 361.27,651.96 361.88,651.41 C362.50,650.85 363.14,650.38 363.78,649.90 C364.42,649.42 365.04,648.93 365.73,648.51 C366.43,648.09 367.16,647.66 367.93,647.39 C368.71,647.13 369.57,646.94 370.40,646.92 C371.23,646.89 372.10,647.03 372.90,647.25 C373.70,647.47 374.48,647.84 375.19,648.25 C375.90,648.66 376.58,649.17 377.16,649.72 C377.75,650.27 378.29,650.90 378.72,651.57 C379.15,652.23 379.48,652.97 379.74,653.70 C380.00,654.43 380.14,655.19 380.30,655.94 C380.45,656.69 380.55,657.42 380.68,658.20Z" fill="url(#tg)"/>
<ellipse cx="370.45" cy="662.25" rx="3.17" ry="2.36" fill="#A83A3E" opacity="0.4" filter="url(#bl)"/>
<ellipse cx="371.42" cy="662.95" rx="2.96" ry="2.17" fill="#A83A3E" opacity="0.4" filter="url(#bl)"/>
<ellipse cx="367.13" cy="652.53" rx="2.03" ry="1.70" fill="#A83A3E" opacity="0.4" filter="url(#bl)"/>
<ellipse cx="368.05" cy="659.86" rx="3.85" ry="3.08" fill="#E8CBBB" opacity="0.35" filter="url(#bl)"/>
<circle cx="371.04" cy="659.61" r="0.7" fill="#F3E0D6" opacity="0.6"/>
<circle cx="371.79" cy="660.19" r="0.7" fill="#F3E0D6" opacity="0.6"/>
<circle cx="370.28" cy="652.74" r="0.7" fill="#F3E0D6" opacity="0.6"/>
<path d="M94.25,711.90 C94.10,712.87 93.86,713.75 93.69,714.70 C93.53,715.65 93.43,716.57 93.24,717.57 C93.05,718.58 92.94,719.69 92.58,720.72 C92.22,721.76 91.75,722.90 91.08,723.76 C90.41,724.62 89.50,725.40 88.55,725.89 C87.61,726.37 86.47,726.59 85.43,726.66 C84.38,726.72 83.30,726.51 82.30,726.29 C81.30,726.08 80.36,725.71 79.45,725.34 C78.54,724.97 77.68,724.57 76.85,724.09 C76.01,723.62 75.20,723.11 74.45,722.50 C73.71,721.89 72.99,721.20 72.37,720.43 C71.76,719.66 71.20,718.79 70.76,717.89 C70.32,716.98 69.96,715.99 69.74,714.99 C69.51,713.99 69.39,712.92 69.41,711.90 C69.43,710.88 69.60,709.82 69.85,708.84 C70.11,707.86 70.51,706.91 70.94,706.01 C71.37,705.11 71.90,704.27 72.45,703.44 C73.00,702.61 73.59,701.80 74.26,701.04 C74.93,700.28 75.66,699.50 76.49,698.90 C77.32,698.30 78.26,697.74 79.23,697.43 C80.20,697.13 81.29,697.01 82.30,697.07 C83.31,697.13 84.34,697.45 85.29,697.81 C86.23,698.17 87.12,698.70 87.97,699.23 C88.82,699.75 89.63,700.33 90.39,700.98 C91.15,701.63 91.92,702.31 92.52,703.12 C93.13,703.93 93.68,704.86 94.02,705.82 C94.36,706.78 94.51,707.88 94.55,708.89 C94.58,709.90 94.39,710.93 94.25,711.90Z" fill="url(#tg2)"/>
<ellipse cx="76.21" cy="708.29" rx="3.04" ry="1.49" fill="#A83A3E" opacity="0.4" filter="url(#bl)"/>
<ellipse cx="85.73" cy="719.23" rx="2.64" ry="1.74" fill="#A83A3E" opacity="0.4" filter="url(#bl)"/>
<ellipse cx="82.00" cy="714.73" rx="3.10" ry="2.06" fill="#A83A3E" opacity="0.4" filter="url(#bl)"/>
<ellipse cx="81.97" cy="710.83" rx="4.55" ry="3.92" fill="#E8CBBB" opacity="0.35" filter="url(#bl)"/>
<circle cx="77.72" cy="708.46" r="0.7" fill="#F3E0D6" opacity="0.6"/>
<circle cx="85.46" cy="709.16" r="0.7" fill="#F3E0D6" opacity="0.6"/>
<circle cx="83.18" cy="705.07" r="0.7" fill="#F3E0D6" opacity="0.6"/>
<path d="M127.59,707.50 C127.58,708.45 127.53,709.40 127.39,710.35 C127.26,711.30 127.10,712.29 126.77,713.19 C126.45,714.09 126.01,715.03 125.44,715.77 C124.86,716.51 124.10,717.15 123.33,717.63 C122.57,718.11 121.67,718.39 120.84,718.65 C120.01,718.90 119.17,719.00 118.34,719.14 C117.52,719.28 116.73,719.40 115.90,719.47 C115.07,719.53 114.22,719.62 113.38,719.52 C112.54,719.42 111.64,719.24 110.86,718.88 C110.08,718.51 109.31,717.96 108.68,717.34 C108.05,716.72 107.52,715.93 107.07,715.16 C106.61,714.38 106.26,713.54 105.94,712.71 C105.62,711.88 105.36,711.04 105.15,710.17 C104.94,709.30 104.77,708.41 104.70,707.50 C104.63,706.59 104.62,705.65 104.71,704.72 C104.81,703.80 104.98,702.85 105.26,701.93 C105.53,701.01 105.88,700.07 106.35,699.22 C106.82,698.37 107.39,697.50 108.07,696.83 C108.76,696.17 109.60,695.56 110.46,695.22 C111.32,694.88 112.33,694.76 113.23,694.80 C114.14,694.84 115.07,695.17 115.90,695.47 C116.73,695.76 117.46,696.22 118.20,696.56 C118.93,696.91 119.59,697.21 120.32,697.52 C121.05,697.83 121.82,698.03 122.57,698.41 C123.32,698.78 124.15,699.19 124.81,699.77 C125.47,700.36 126.10,701.12 126.53,701.94 C126.96,702.75 127.22,703.72 127.40,704.65 C127.58,705.57 127.59,706.55 127.59,707.50Z" fill="url(#tg)"/>
<ellipse cx="115.47" cy="702.25" rx="3.32" ry="1.48" fill="#A83A3E" opacity="0.4" filter="url(#bl)"/>
<ellipse cx="121.95" cy="713.50" rx="1.83" ry="1.84" fill="#A83A3E" opacity="0.4" filter="url(#bl)"/>
<ellipse cx="119.95" cy="713.94" rx="2.56" ry="1.58" fill="#A83A3E" opacity="0.4" filter="url(#bl)"/>
<ellipse cx="113.87" cy="709.80" rx="4.02" ry="3.50" fill="#E8CBBB" opacity="0.35" filter="url(#bl)"/>
<circle cx="112.57" cy="708.52" r="0.7" fill="#F3E0D6" opacity="0.6"/>
<circle cx="111.78" cy="707.80" r="0.7" fill="#F3E0D6" opacity="0.6"/>
<circle cx="121.11" cy="702.91" r="0.7" fill="#F3E0D6" opacity="0.6"/>
<path d="M165.35,708.40 C165.26,709.18 165.15,709.93 164.98,710.69 C164.82,711.45 164.66,712.21 164.38,712.95 C164.11,713.69 163.77,714.45 163.33,715.13 C162.88,715.81 162.32,716.47 161.70,717.04 C161.08,717.61 160.36,718.11 159.61,718.55 C158.86,718.98 158.03,719.36 157.18,719.64 C156.33,719.91 155.41,720.15 154.50,720.20 C153.59,720.26 152.61,720.22 151.74,719.98 C150.86,719.75 149.98,719.32 149.26,718.80 C148.55,718.28 147.94,717.56 147.44,716.87 C146.93,716.19 146.60,715.40 146.24,714.70 C145.89,713.99 145.63,713.31 145.31,712.63 C144.99,711.96 144.63,711.33 144.30,710.63 C143.97,709.92 143.57,709.19 143.33,708.40 C143.09,707.61 142.87,706.72 142.87,705.86 C142.87,705.01 143.03,704.07 143.35,703.26 C143.68,702.46 144.22,701.66 144.83,701.02 C145.44,700.38 146.23,699.84 147.01,699.42 C147.79,699.00 148.67,698.72 149.51,698.49 C150.35,698.27 151.21,698.18 152.04,698.09 C152.87,698.00 153.68,697.98 154.50,697.98 C155.32,697.97 156.13,697.97 156.97,698.04 C157.81,698.11 158.69,698.19 159.53,698.42 C160.37,698.64 161.26,698.94 162.01,699.39 C162.76,699.85 163.49,700.46 164.02,701.14 C164.55,701.82 164.93,702.67 165.18,703.48 C165.44,704.29 165.49,705.17 165.52,705.99 C165.55,706.81 165.44,707.62 165.35,708.40Z" fill="url(#tg2)"/>
<ellipse cx="148.22" cy="708.30" rx="2.57" ry="1.62" fill="#A83A3E" opacity="0.4" filter="url(#bl)"/>
<ellipse cx="149.95" cy="706.51" rx="2.34" ry="2.38" fill="#A83A3E" opacity="0.4" filter="url(#bl)"/>
<ellipse cx="148.20" cy="711.43" rx="3.23" ry="1.37" fill="#A83A3E" opacity="0.4" filter="url(#bl)"/>
<ellipse cx="155.35" cy="709.65" rx="4.02" ry="3.08" fill="#E8CBBB" opacity="0.35" filter="url(#bl)"/>
<circle cx="159.12" cy="706.09" r="0.7" fill="#F3E0D6" opacity="0.6"/>
<circle cx="153.03" cy="707.22" r="0.7" fill="#F3E0D6" opacity="0.6"/>
<circle cx="160.24" cy="709.38" r="0.7" fill="#F3E0D6" opacity="0.6"/>
<path d="M207.06,711.00 C207.00,711.90 206.74,712.86 206.34,713.66 C205.94,714.46 205.27,715.18 204.67,715.80 C204.06,716.42 203.32,716.87 202.71,717.39 C202.11,717.91 201.57,718.36 201.03,718.94 C200.48,719.51 200.05,720.21 199.43,720.83 C198.82,721.45 198.15,722.22 197.36,722.67 C196.57,723.11 195.60,723.47 194.70,723.52 C193.80,723.57 192.81,723.30 191.97,722.95 C191.14,722.60 190.38,721.97 189.68,721.42 C188.98,720.87 188.40,720.25 187.78,719.67 C187.17,719.09 186.56,718.56 186.00,717.93 C185.44,717.31 184.85,716.68 184.42,715.95 C184.00,715.22 183.64,714.39 183.44,713.57 C183.24,712.75 183.20,711.85 183.21,711.00 C183.22,710.15 183.34,709.29 183.49,708.44 C183.64,707.59 183.80,706.72 184.10,705.89 C184.39,705.06 184.73,704.18 185.25,703.46 C185.76,702.74 186.44,702.05 187.18,701.57 C187.92,701.10 188.85,700.81 189.70,700.62 C190.55,700.44 191.46,700.47 192.29,700.46 C193.13,700.44 193.90,700.51 194.70,700.52 C195.50,700.54 196.27,700.49 197.09,700.55 C197.90,700.60 198.77,700.62 199.60,700.83 C200.42,701.04 201.28,701.36 202.03,701.81 C202.77,702.26 203.46,702.88 204.06,703.54 C204.65,704.19 205.17,704.96 205.61,705.75 C206.05,706.53 206.45,707.39 206.70,708.26 C206.94,709.14 207.12,710.10 207.06,711.00Z" fill="url(#tg)"/>
<ellipse cx="191.53" cy="708.04" rx="2.67" ry="1.47" fill="#A83A3E" opacity="0.4" filter="url(#bl)"/>
<ellipse cx="193.10" cy="716.77" rx="3.30" ry="2.34" fill="#A83A3E" opacity="0.4" filter="url(#bl)"/>
<ellipse cx="196.36" cy="716.23" rx="3.40" ry="1.97" fill="#A83A3E" opacity="0.4" filter="url(#bl)"/>
<ellipse cx="194.72" cy="710.02" rx="4.02" ry="3.22" fill="#E8CBBB" opacity="0.35" filter="url(#bl)"/>
<circle cx="197.37" cy="710.43" r="0.7" fill="#F3E0D6" opacity="0.6"/>
<circle cx="197.61" cy="712.66" r="0.7" fill="#F3E0D6" opacity="0.6"/>
<circle cx="192.24" cy="705.81" r="0.7" fill="#F3E0D6" opacity="0.6"/>
<path d="M276.19,711.90 C276.19,712.97 275.89,714.09 275.57,715.11 C275.24,716.13 274.72,717.09 274.22,718.03 C273.72,718.96 273.17,719.86 272.55,720.71 C271.92,721.56 271.26,722.44 270.46,723.14 C269.67,723.84 268.74,724.51 267.77,724.93 C266.80,725.35 265.69,725.58 264.64,725.67 C263.60,725.76 262.52,725.61 261.50,725.48 C260.48,725.36 259.52,725.11 258.53,724.90 C257.55,724.68 256.57,724.50 255.58,724.19 C254.59,723.89 253.52,723.59 252.59,723.07 C251.66,722.55 250.69,721.89 250.00,721.07 C249.30,720.26 248.74,719.22 248.42,718.20 C248.09,717.19 248.02,716.03 248.02,714.98 C248.02,713.93 248.23,712.89 248.39,711.90 C248.55,710.91 248.78,710.00 248.99,709.04 C249.20,708.09 249.37,707.16 249.64,706.19 C249.91,705.22 250.18,704.20 250.62,703.22 C251.06,702.25 251.58,701.21 252.28,700.34 C252.98,699.47 253.85,698.60 254.81,698.00 C255.77,697.40 256.93,696.93 258.04,696.74 C259.16,696.56 260.41,696.64 261.50,696.90 C262.59,697.16 263.67,697.73 264.60,698.30 C265.54,698.87 266.32,699.64 267.09,700.30 C267.86,700.95 268.49,701.61 269.21,702.23 C269.94,702.84 270.68,703.34 271.44,703.97 C272.20,704.60 273.08,705.21 273.77,705.99 C274.46,706.78 275.17,707.70 275.57,708.69 C275.98,709.67 276.19,710.83 276.19,711.90Z" fill="url(#tg3)"/>
<ellipse cx="263.90" cy="708.83" rx="2.75" ry="1.75" fill="#A83A3E" opacity="0.4" filter="url(#bl)"/>
<ellipse cx="256.38" cy="706.69" rx="2.15" ry="2.47" fill="#A83A3E" opacity="0.4" filter="url(#bl)"/>
<ellipse cx="261.45" cy="707.59" rx="3.34" ry="2.60" fill="#A83A3E" opacity="0.4" filter="url(#bl)"/>
<ellipse cx="260.20" cy="711.09" rx="4.90" ry="3.92" fill="#E8CBBB" opacity="0.35" filter="url(#bl)"/>
<circle cx="257.19" cy="706.17" r="0.7" fill="#F3E0D6" opacity="0.6"/>
<circle cx="259.29" cy="706.18" r="0.7" fill="#F3E0D6" opacity="0.6"/>
<circle cx="257.85" cy="708.52" r="0.7" fill="#F3E0D6" opacity="0.6"/>
<path d="M314.02,712.80 C314.00,713.72 313.92,714.62 313.80,715.54 C313.68,716.46 313.55,717.40 313.29,718.33 C313.03,719.27 312.73,720.27 312.24,721.12 C311.74,721.98 311.08,722.85 310.31,723.47 C309.54,724.10 308.55,724.57 307.61,724.86 C306.66,725.15 305.60,725.18 304.63,725.20 C303.66,725.23 302.73,725.08 301.80,725.02 C300.87,724.95 300.00,724.90 299.06,724.82 C298.11,724.74 297.12,724.74 296.15,724.53 C295.18,724.32 294.10,724.06 293.21,723.57 C292.32,723.07 291.45,722.36 290.81,721.57 C290.17,720.77 289.71,719.75 289.39,718.78 C289.07,717.81 288.96,716.74 288.89,715.75 C288.82,714.75 288.87,713.76 288.97,712.80 C289.08,711.84 289.23,710.89 289.50,709.99 C289.77,709.09 290.13,708.20 290.59,707.40 C291.05,706.60 291.63,705.86 292.25,705.18 C292.86,704.50 293.56,703.92 294.26,703.34 C294.96,702.76 295.68,702.23 296.46,701.70 C297.23,701.18 298.03,700.62 298.92,700.20 C299.82,699.78 300.80,699.35 301.80,699.17 C302.80,698.98 303.91,698.93 304.93,699.09 C305.94,699.26 306.99,699.66 307.89,700.16 C308.78,700.67 309.61,701.39 310.31,702.12 C311.02,702.86 311.61,703.72 312.11,704.58 C312.61,705.43 313.01,706.35 313.30,707.26 C313.60,708.17 313.79,709.11 313.91,710.04 C314.03,710.96 314.03,711.88 314.02,712.80Z" fill="url(#tg3)"/>
<ellipse cx="295.54" cy="709.62" rx="3.45" ry="1.38" fill="#A83A3E" opacity="0.4" filter="url(#bl)"/>
<ellipse cx="301.85" cy="714.65" rx="3.27" ry="1.50" fill="#A83A3E" opacity="0.4" filter="url(#bl)"/>
<ellipse cx="298.53" cy="709.20" rx="2.48" ry="1.82" fill="#A83A3E" opacity="0.4" filter="url(#bl)"/>
<ellipse cx="302.89" cy="714.81" rx="4.55" ry="3.64" fill="#E8CBBB" opacity="0.35" filter="url(#bl)"/>
<circle cx="306.65" cy="706.58" r="0.7" fill="#F3E0D6" opacity="0.6"/>
<circle cx="295.72" cy="715.52" r="0.7" fill="#F3E0D6" opacity="0.6"/>
<circle cx="306.94" cy="712.45" r="0.7" fill="#F3E0D6" opacity="0.6"/>
<path d="M342.56,711.90 C342.59,712.63 342.55,713.40 342.41,714.12 C342.26,714.84 342.02,715.55 341.71,716.20 C341.41,716.84 341.00,717.44 340.58,717.98 C340.15,718.53 339.68,719.02 339.18,719.47 C338.69,719.92 338.17,720.35 337.61,720.70 C337.05,721.06 336.45,721.39 335.84,721.59 C335.22,721.79 334.55,721.92 333.90,721.93 C333.25,721.93 332.59,721.81 331.96,721.64 C331.32,721.47 330.71,721.19 330.10,720.91 C329.49,720.62 328.89,720.31 328.30,719.93 C327.70,719.55 327.06,719.15 326.53,718.61 C326.01,718.08 325.46,717.44 325.14,716.72 C324.81,716.01 324.60,715.13 324.60,714.33 C324.60,713.52 324.84,712.64 325.11,711.90 C325.39,711.16 325.88,710.51 326.25,709.90 C326.62,709.30 327.02,708.84 327.33,708.28 C327.63,707.73 327.82,707.20 328.07,706.58 C328.31,705.96 328.47,705.24 328.78,704.57 C329.10,703.90 329.47,703.13 329.97,702.57 C330.47,702.02 331.11,701.51 331.77,701.23 C332.42,700.94 333.20,700.85 333.90,700.88 C334.60,700.91 335.34,701.15 335.99,701.43 C336.65,701.72 337.27,702.14 337.83,702.57 C338.39,703.01 338.91,703.53 339.37,704.06 C339.83,704.60 340.25,705.18 340.61,705.78 C340.98,706.38 341.30,707.02 341.57,707.68 C341.84,708.34 342.08,709.02 342.24,709.72 C342.41,710.43 342.53,711.17 342.56,711.90Z" fill="url(#tg2)"/>
<ellipse cx="330.14" cy="708.10" rx="2.69" ry="2.15" fill="#A83A3E" opacity="0.4" filter="url(#bl)"/>
<ellipse cx="338.15" cy="714.34" rx="2.90" ry="2.27" fill="#A83A3E" opacity="0.4" filter="url(#bl)"/>
<ellipse cx="333.49" cy="712.47" rx="1.87" ry="2.30" fill="#A83A3E" opacity="0.4" filter="url(#bl)"/>
<ellipse cx="332.42" cy="713.66" rx="3.06" ry="2.80" fill="#E8CBBB" opacity="0.35" filter="url(#bl)"/>
<circle cx="335.17" cy="709.94" r="0.7" fill="#F3E0D6" opacity="0.6"/>
<circle cx="330.64" cy="709.42" r="0.7" fill="#F3E0D6" opacity="0.6"/>
<circle cx="335.09" cy="713.89" r="0.7" fill="#F3E0D6" opacity="0.6"/>
<path d="M388.89,709.80 C388.90,710.52 388.81,711.27 388.67,711.98 C388.52,712.70 388.32,713.42 388.03,714.10 C387.74,714.78 387.39,715.47 386.93,716.05 C386.48,716.63 385.91,717.18 385.30,717.58 C384.69,717.98 383.97,718.27 383.27,718.46 C382.58,718.66 381.83,718.70 381.14,718.72 C380.44,718.75 379.77,718.68 379.10,718.62 C378.43,718.56 377.80,718.49 377.14,718.38 C376.48,718.28 375.82,718.18 375.16,717.99 C374.50,717.79 373.81,717.56 373.19,717.21 C372.57,716.87 371.95,716.42 371.45,715.90 C370.95,715.38 370.50,714.75 370.18,714.09 C369.87,713.44 369.66,712.70 369.55,711.98 C369.44,711.26 369.46,710.51 369.53,709.80 C369.61,709.09 369.79,708.39 369.99,707.72 C370.20,707.05 370.46,706.41 370.75,705.78 C371.04,705.15 371.36,704.53 371.73,703.92 C372.11,703.32 372.51,702.70 373.02,702.17 C373.52,701.64 374.10,701.11 374.74,700.75 C375.38,700.39 376.14,700.12 376.87,700.02 C377.59,699.91 378.39,699.99 379.10,700.14 C379.81,700.29 380.50,700.62 381.13,700.91 C381.76,701.21 382.32,701.58 382.89,701.92 C383.47,702.26 384.01,702.58 384.56,702.95 C385.12,703.31 385.70,703.67 386.22,704.12 C386.74,704.58 387.27,705.09 387.67,705.68 C388.06,706.26 388.39,706.95 388.59,707.63 C388.80,708.32 388.88,709.08 388.89,709.80Z" fill="url(#tg)"/>
<ellipse cx="377.03" cy="709.39" rx="3.43" ry="2.10" fill="#A83A3E" opacity="0.4" filter="url(#bl)"/>
<ellipse cx="383.11" cy="709.54" rx="2.20" ry="1.55" fill="#A83A3E" opacity="0.4" filter="url(#bl)"/>
<ellipse cx="383.91" cy="711.94" rx="2.32" ry="1.23" fill="#A83A3E" opacity="0.4" filter="url(#bl)"/>
<ellipse cx="378.38" cy="710.77" rx="3.32" ry="2.66" fill="#E8CBBB" opacity="0.35" filter="url(#bl)"/>
<circle cx="378.34" cy="707.49" r="0.7" fill="#F3E0D6" opacity="0.6"/>
<circle cx="380.69" cy="713.84" r="0.7" fill="#F3E0D6" opacity="0.6"/>
<circle cx="376.50" cy="705.37" r="0.7" fill="#F3E0D6" opacity="0.6"/>
<path d="M86.20,761.50 C86.03,762.48 85.67,763.44 85.29,764.30 C84.91,765.16 84.40,765.93 83.93,766.66 C83.46,767.40 82.96,768.05 82.45,768.71 C81.95,769.37 81.46,770.02 80.90,770.61 C80.33,771.21 79.74,771.82 79.07,772.29 C78.41,772.77 77.66,773.18 76.90,773.45 C76.14,773.71 75.31,773.84 74.50,773.88 C73.69,773.91 72.86,773.82 72.06,773.66 C71.25,773.50 70.44,773.26 69.66,772.92 C68.88,772.58 68.09,772.16 67.41,771.61 C66.72,771.06 66.06,770.37 65.56,769.60 C65.06,768.84 64.67,767.92 64.40,767.03 C64.12,766.14 64.01,765.17 63.90,764.25 C63.79,763.33 63.77,762.42 63.74,761.50 C63.71,760.58 63.66,759.65 63.72,758.70 C63.78,757.75 63.83,756.73 64.08,755.80 C64.34,754.87 64.72,753.88 65.26,753.13 C65.81,752.38 66.57,751.72 67.33,751.29 C68.10,750.85 69.02,750.66 69.85,750.53 C70.68,750.39 71.51,750.48 72.29,750.48 C73.06,750.49 73.76,750.55 74.50,750.55 C75.24,750.56 75.94,750.49 76.71,750.51 C77.47,750.53 78.29,750.50 79.10,750.65 C79.91,750.80 80.79,751.02 81.57,751.42 C82.36,751.82 83.17,752.38 83.82,753.06 C84.47,753.73 85.07,754.59 85.49,755.49 C85.90,756.38 86.20,757.43 86.32,758.43 C86.44,759.44 86.38,760.52 86.20,761.50Z" fill="url(#tg2)"/>
<ellipse cx="80.19" cy="758.91" rx="3.19" ry="1.52" fill="#A83A3E" opacity="0.4" filter="url(#bl)"/>
<ellipse cx="71.13" cy="765.08" rx="2.30" ry="2.53" fill="#A83A3E" opacity="0.4" filter="url(#bl)"/>
<ellipse cx="74.45" cy="757.20" rx="2.18" ry="1.78" fill="#A83A3E" opacity="0.4" filter="url(#bl)"/>
<ellipse cx="74.31" cy="763.81" rx="3.85" ry="3.50" fill="#E8CBBB" opacity="0.35" filter="url(#bl)"/>
<circle cx="70.61" cy="760.17" r="0.7" fill="#F3E0D6" opacity="0.6"/>
<circle cx="71.34" cy="767.43" r="0.7" fill="#F3E0D6" opacity="0.6"/>
<circle cx="70.56" cy="755.90" r="0.7" fill="#F3E0D6" opacity="0.6"/>
<path d="M128.65,765.00 C128.74,765.73 128.80,766.50 128.64,767.23 C128.48,767.95 128.16,768.72 127.67,769.35 C127.18,769.99 126.44,770.58 125.70,771.06 C124.95,771.54 124.04,771.89 123.20,772.24 C122.36,772.59 121.51,772.85 120.67,773.15 C119.82,773.45 119.02,773.77 118.12,774.04 C117.23,774.31 116.28,774.63 115.30,774.76 C114.32,774.89 113.21,774.96 112.23,774.82 C111.25,774.68 110.23,774.35 109.42,773.93 C108.60,773.51 107.90,772.89 107.32,772.31 C106.74,771.73 106.35,771.06 105.94,770.46 C105.53,769.85 105.22,769.26 104.87,768.67 C104.51,768.08 104.14,767.53 103.79,766.92 C103.44,766.31 103.04,765.69 102.76,765.00 C102.49,764.31 102.20,763.56 102.13,762.80 C102.06,762.04 102.07,761.20 102.33,760.44 C102.59,759.67 103.05,758.86 103.70,758.24 C104.34,757.61 105.26,757.04 106.21,756.67 C107.16,756.30 108.33,756.12 109.39,756.03 C110.44,755.94 111.55,756.07 112.54,756.16 C113.52,756.24 114.41,756.43 115.30,756.54 C116.19,756.64 116.99,756.71 117.86,756.79 C118.74,756.87 119.65,756.87 120.56,757.02 C121.46,757.17 122.45,757.35 123.29,757.68 C124.13,758.01 124.94,758.48 125.59,759.01 C126.23,759.53 126.72,760.19 127.14,760.83 C127.56,761.48 127.84,762.17 128.09,762.87 C128.34,763.56 128.56,764.27 128.65,765.00Z" fill="url(#tg)"/>
<ellipse cx="110.80" cy="769.55" rx="3.07" ry="1.24" fill="#A83A3E" opacity="0.4" filter="url(#bl)"/>
<ellipse cx="117.65" cy="763.73" rx="2.44" ry="1.66" fill="#A83A3E" opacity="0.4" filter="url(#bl)"/>
<ellipse cx="110.57" cy="759.80" rx="2.28" ry="1.69" fill="#A83A3E" opacity="0.4" filter="url(#bl)"/>
<ellipse cx="116.40" cy="764.40" rx="4.55" ry="2.66" fill="#E8CBBB" opacity="0.35" filter="url(#bl)"/>
<circle cx="121.34" cy="762.22" r="0.7" fill="#F3E0D6" opacity="0.6"/>
<circle cx="113.44" cy="768.05" r="0.7" fill="#F3E0D6" opacity="0.6"/>
<circle cx="119.49" cy="764.36" r="0.7" fill="#F3E0D6" opacity="0.6"/>
<path d="M165.75,763.80 C165.67,764.79 165.43,765.79 165.16,766.69 C164.90,767.60 164.52,768.43 164.15,769.24 C163.79,770.04 163.39,770.77 162.98,771.52 C162.57,772.27 162.16,773.02 161.69,773.73 C161.22,774.45 160.72,775.23 160.13,775.83 C159.55,776.43 158.87,777.04 158.16,777.36 C157.46,777.67 156.64,777.82 155.90,777.73 C155.16,777.63 154.39,777.24 153.73,776.79 C153.07,776.34 152.49,775.64 151.95,775.02 C151.41,774.41 150.96,773.72 150.48,773.10 C150.00,772.47 149.54,771.90 149.07,771.26 C148.60,770.61 148.07,769.99 147.65,769.23 C147.23,768.48 146.80,767.63 146.54,766.72 C146.28,765.82 146.12,764.78 146.09,763.80 C146.06,762.82 146.18,761.78 146.35,760.82 C146.52,759.85 146.81,758.91 147.12,758.02 C147.44,757.12 147.80,756.24 148.23,755.43 C148.66,754.63 149.15,753.82 149.71,753.18 C150.27,752.54 150.93,751.96 151.61,751.60 C152.28,751.23 153.05,751.04 153.76,750.98 C154.48,750.93 155.22,751.09 155.90,751.26 C156.58,751.43 157.23,751.74 157.87,752.02 C158.50,752.30 159.10,752.59 159.72,752.93 C160.35,753.27 160.98,753.59 161.59,754.04 C162.20,754.49 162.84,754.99 163.38,755.64 C163.92,756.28 164.46,757.06 164.84,757.91 C165.22,758.76 165.52,759.77 165.67,760.75 C165.83,761.73 165.84,762.81 165.75,763.80Z" fill="url(#tg2)"/>
<ellipse cx="154.97" cy="768.26" rx="3.10" ry="1.26" fill="#A83A3E" opacity="0.4" filter="url(#bl)"/>
<ellipse cx="151.04" cy="757.54" rx="3.36" ry="1.56" fill="#A83A3E" opacity="0.4" filter="url(#bl)"/>
<ellipse cx="158.48" cy="769.50" rx="2.38" ry="1.58" fill="#A83A3E" opacity="0.4" filter="url(#bl)"/>
<ellipse cx="156.71" cy="764.91" rx="3.32" ry="3.64" fill="#E8CBBB" opacity="0.35" filter="url(#bl)"/>
<circle cx="153.64" cy="766.62" r="0.7" fill="#F3E0D6" opacity="0.6"/>
<circle cx="154.16" cy="760.88" r="0.7" fill="#F3E0D6" opacity="0.6"/>
<circle cx="151.19" cy="767.12" r="0.7" fill="#F3E0D6" opacity="0.6"/>
<path d="M204.10,763.80 C204.26,764.72 204.48,765.73 204.46,766.70 C204.44,767.67 204.29,768.72 204.00,769.62 C203.71,770.52 203.20,771.36 202.70,772.09 C202.20,772.83 201.59,773.45 200.99,774.06 C200.40,774.67 199.80,775.26 199.14,775.78 C198.48,776.30 197.79,776.85 197.05,777.17 C196.31,777.49 195.48,777.72 194.70,777.67 C193.92,777.63 193.10,777.33 192.40,776.91 C191.69,776.50 191.05,775.83 190.47,775.21 C189.89,774.60 189.41,773.89 188.91,773.23 C188.42,772.57 187.96,771.95 187.50,771.26 C187.05,770.58 186.58,769.90 186.19,769.13 C185.81,768.35 185.45,767.51 185.19,766.62 C184.94,765.73 184.76,764.77 184.67,763.80 C184.57,762.83 184.55,761.81 184.62,760.81 C184.69,759.81 184.82,758.74 185.10,757.79 C185.37,756.83 185.77,755.84 186.29,755.08 C186.81,754.32 187.52,753.68 188.22,753.24 C188.92,752.79 189.75,752.61 190.49,752.43 C191.23,752.25 191.95,752.27 192.65,752.14 C193.35,752.01 193.98,751.83 194.70,751.64 C195.42,751.45 196.16,751.09 196.95,751.00 C197.73,750.92 198.64,750.84 199.39,751.14 C200.14,751.43 200.92,752.03 201.46,752.77 C202.01,753.51 202.37,754.60 202.64,755.56 C202.92,756.53 202.96,757.60 203.11,758.54 C203.25,759.48 203.34,760.31 203.50,761.19 C203.67,762.07 203.94,762.88 204.10,763.80Z" fill="url(#tg)"/>
<ellipse cx="193.45" cy="760.24" rx="2.53" ry="1.89" fill="#A83A3E" opacity="0.4" filter="url(#bl)"/>
<ellipse cx="199.41" cy="759.27" rx="3.16" ry="2.23" fill="#A83A3E" opacity="0.4" filter="url(#bl)"/>
<ellipse cx="198.25" cy="767.70" rx="2.83" ry="1.66" fill="#A83A3E" opacity="0.4" filter="url(#bl)"/>
<ellipse cx="193.32" cy="763.91" rx="3.50" ry="3.64" fill="#E8CBBB" opacity="0.35" filter="url(#bl)"/>
<circle cx="197.52" cy="758.33" r="0.7" fill="#F3E0D6" opacity="0.6"/>
<circle cx="191.67" cy="767.09" r="0.7" fill="#F3E0D6" opacity="0.6"/>
<circle cx="192.17" cy="758.14" r="0.7" fill="#F3E0D6" opacity="0.6"/>
<path d="M274.06,759.50 C273.99,760.54 273.76,761.59 273.45,762.58 C273.13,763.57 272.67,764.53 272.17,765.45 C271.68,766.37 271.09,767.24 270.46,768.11 C269.82,768.98 269.15,769.85 268.35,770.66 C267.56,771.47 266.69,772.33 265.68,772.96 C264.67,773.60 263.49,774.21 262.29,774.50 C261.09,774.78 259.71,774.84 258.50,774.65 C257.29,774.45 256.04,773.91 255.00,773.33 C253.97,772.75 253.09,771.90 252.28,771.17 C251.47,770.44 250.84,769.66 250.13,768.98 C249.42,768.29 248.75,767.71 248.01,767.06 C247.26,766.41 246.42,765.83 245.67,765.08 C244.92,764.34 244.09,763.52 243.52,762.59 C242.94,761.66 242.44,760.58 242.20,759.50 C241.96,758.42 241.93,757.23 242.09,756.12 C242.25,755.01 242.65,753.86 243.18,752.84 C243.72,751.82 244.47,750.82 245.31,750.00 C246.16,749.18 247.20,748.45 248.27,747.91 C249.33,747.37 250.54,746.99 251.70,746.74 C252.85,746.49 254.06,746.43 255.19,746.40 C256.32,746.36 257.42,746.45 258.50,746.53 C259.58,746.61 260.62,746.71 261.69,746.87 C262.76,747.03 263.85,747.18 264.91,747.49 C265.96,747.79 267.07,748.16 268.04,748.69 C269.02,749.22 269.98,749.90 270.77,750.66 C271.55,751.43 272.23,752.36 272.75,753.30 C273.26,754.25 273.62,755.30 273.84,756.34 C274.06,757.37 274.12,758.46 274.06,759.50Z" fill="url(#tg2)"/>
<ellipse cx="251.62" cy="759.48" rx="3.01" ry="1.83" fill="#A83A3E" opacity="0.4" filter="url(#bl)"/>
<ellipse cx="253.97" cy="758.22" rx="2.85" ry="2.14" fill="#A83A3E" opacity="0.4" filter="url(#bl)"/>
<ellipse cx="262.73" cy="764.84" rx="2.93" ry="1.37" fill="#A83A3E" opacity="0.4" filter="url(#bl)"/>
<ellipse cx="259.19" cy="759.33" rx="5.42" ry="3.92" fill="#E8CBBB" opacity="0.35" filter="url(#bl)"/>
<circle cx="259.54" cy="757.72" r="0.7" fill="#F3E0D6" opacity="0.6"/>
<circle cx="262.19" cy="755.29" r="0.7" fill="#F3E0D6" opacity="0.6"/>
<circle cx="254.59" cy="755.93" r="0.7" fill="#F3E0D6" opacity="0.6"/>
<path d="M314.01,761.50 C314.08,762.42 314.06,763.36 313.95,764.30 C313.85,765.24 313.69,766.21 313.40,767.15 C313.10,768.09 312.75,769.08 312.20,769.94 C311.66,770.79 310.96,771.67 310.13,772.27 C309.31,772.88 308.25,773.35 307.24,773.56 C306.23,773.78 305.07,773.70 304.06,773.56 C303.06,773.43 302.09,773.02 301.20,772.74 C300.31,772.47 299.56,772.13 298.73,771.91 C297.90,771.70 297.11,771.61 296.22,771.45 C295.32,771.29 294.32,771.23 293.37,770.94 C292.43,770.64 291.36,770.26 290.54,769.68 C289.71,769.09 288.94,768.28 288.42,767.42 C287.91,766.56 287.61,765.50 287.47,764.51 C287.32,763.53 287.41,762.47 287.55,761.50 C287.70,760.53 287.99,759.57 288.34,758.68 C288.68,757.78 289.12,756.93 289.61,756.13 C290.11,755.34 290.69,754.60 291.31,753.92 C291.94,753.24 292.64,752.63 293.37,752.06 C294.11,751.50 294.89,750.99 295.71,750.54 C296.54,750.10 297.41,749.67 298.32,749.38 C299.24,749.08 300.23,748.84 301.20,748.78 C302.17,748.71 303.22,748.78 304.17,749.01 C305.11,749.23 306.06,749.65 306.90,750.13 C307.73,750.61 308.49,751.25 309.17,751.89 C309.86,752.53 310.46,753.25 311.01,753.98 C311.56,754.71 312.06,755.48 312.47,756.28 C312.89,757.08 313.26,757.93 313.51,758.80 C313.77,759.67 313.93,760.58 314.01,761.50Z" fill="url(#tg)"/>
<ellipse cx="305.61" cy="763.61" rx="3.48" ry="1.34" fill="#A83A3E" opacity="0.4" filter="url(#bl)"/>
<ellipse cx="300.84" cy="765.89" rx="3.23" ry="2.48" fill="#A83A3E" opacity="0.4" filter="url(#bl)"/>
<ellipse cx="294.63" cy="758.66" rx="2.00" ry="1.47" fill="#A83A3E" opacity="0.4" filter="url(#bl)"/>
<ellipse cx="302.38" cy="762.44" rx="4.55" ry="3.50" fill="#E8CBBB" opacity="0.35" filter="url(#bl)"/>
<circle cx="306.79" cy="759.90" r="0.7" fill="#F3E0D6" opacity="0.6"/>
<circle cx="305.96" cy="760.86" r="0.7" fill="#F3E0D6" opacity="0.6"/>
<circle cx="298.08" cy="764.97" r="0.7" fill="#F3E0D6" opacity="0.6"/>
<path d="M347.85,761.50 C347.89,762.15 347.87,762.82 347.78,763.48 C347.70,764.14 347.57,764.83 347.33,765.46 C347.09,766.10 346.76,766.75 346.34,767.28 C345.92,767.81 345.37,768.29 344.80,768.64 C344.23,769.00 343.55,769.24 342.91,769.42 C342.28,769.60 341.62,769.66 340.98,769.74 C340.34,769.81 339.73,769.84 339.10,769.86 C338.47,769.87 337.84,769.90 337.20,769.83 C336.56,769.77 335.88,769.67 335.27,769.46 C334.65,769.24 334.02,768.92 333.50,768.52 C332.98,768.12 332.50,767.60 332.12,767.06 C331.74,766.53 331.45,765.90 331.22,765.29 C330.99,764.68 330.85,764.04 330.75,763.41 C330.66,762.77 330.63,762.13 330.66,761.50 C330.68,760.87 330.78,760.24 330.91,759.63 C331.05,759.02 331.24,758.42 331.47,757.83 C331.71,757.24 331.97,756.65 332.30,756.08 C332.63,755.51 332.99,754.91 333.44,754.40 C333.89,753.89 334.42,753.37 335.01,753.01 C335.61,752.66 336.31,752.37 336.99,752.26 C337.67,752.14 338.43,752.20 339.10,752.33 C339.77,752.47 340.43,752.78 341.02,753.07 C341.62,753.36 342.15,753.73 342.67,754.08 C343.20,754.43 343.69,754.77 344.17,755.14 C344.66,755.52 345.15,755.89 345.58,756.33 C346.02,756.77 346.44,757.27 346.77,757.81 C347.10,758.35 347.36,758.96 347.53,759.57 C347.71,760.19 347.80,760.85 347.85,761.50Z" fill="url(#tg2)"/>
<ellipse cx="336.74" cy="762.46" rx="2.91" ry="1.48" fill="#A83A3E" opacity="0.4" filter="url(#bl)"/>
<ellipse cx="334.40" cy="759.84" rx="2.95" ry="1.46" fill="#A83A3E" opacity="0.4" filter="url(#bl)"/>
<ellipse cx="337.29" cy="758.65" rx="3.15" ry="1.97" fill="#A83A3E" opacity="0.4" filter="url(#bl)"/>
<ellipse cx="337.11" cy="760.89" rx="3.06" ry="2.45" fill="#E8CBBB" opacity="0.35" filter="url(#bl)"/>
<circle cx="338.18" cy="761.94" r="0.7" fill="#F3E0D6" opacity="0.6"/>
<circle cx="340.32" cy="757.92" r="0.7" fill="#F3E0D6" opacity="0.6"/>
<circle cx="336.16" cy="763.21" r="0.7" fill="#F3E0D6" opacity="0.6"/>
<path d="M382.64,761.50 C382.62,762.01 382.51,762.56 382.31,763.03 C382.11,763.50 381.78,763.94 381.44,764.31 C381.11,764.68 380.68,764.97 380.30,765.25 C379.93,765.53 379.55,765.74 379.19,766.00 C378.83,766.26 378.52,766.53 378.15,766.81 C377.79,767.08 377.43,767.41 377.00,767.65 C376.58,767.88 376.09,768.12 375.60,768.21 C375.11,768.30 374.56,768.30 374.07,768.20 C373.58,768.10 373.09,767.86 372.66,767.62 C372.22,767.37 371.82,767.03 371.45,766.70 C371.08,766.37 370.73,766.01 370.42,765.63 C370.11,765.24 369.81,764.83 369.60,764.39 C369.39,763.95 369.22,763.45 369.15,762.97 C369.07,762.49 369.10,761.98 369.16,761.50 C369.22,761.02 369.37,760.56 369.51,760.11 C369.64,759.66 369.81,759.23 369.99,758.80 C370.17,758.36 370.34,757.92 370.58,757.50 C370.83,757.08 371.10,756.64 371.45,756.30 C371.80,755.95 372.23,755.64 372.68,755.44 C373.13,755.24 373.65,755.14 374.14,755.10 C374.62,755.05 375.13,755.12 375.60,755.19 C376.07,755.25 376.52,755.37 376.97,755.49 C377.42,755.61 377.86,755.74 378.29,755.91 C378.72,756.08 379.16,756.27 379.58,756.52 C379.99,756.76 380.39,757.05 380.75,757.39 C381.11,757.73 381.45,758.12 381.72,758.55 C382.00,758.98 382.24,759.46 382.40,759.95 C382.55,760.44 382.65,760.99 382.64,761.50Z" fill="url(#tg)"/>
<ellipse cx="378.20" cy="765.05" rx="2.42" ry="1.48" fill="#A83A3E" opacity="0.4" filter="url(#bl)"/>
<ellipse cx="377.23" cy="759.38" rx="1.81" ry="2.46" fill="#A83A3E" opacity="0.4" filter="url(#bl)"/>
<ellipse cx="375.05" cy="763.79" rx="2.49" ry="2.44" fill="#A83A3E" opacity="0.4" filter="url(#bl)"/>
<ellipse cx="375.02" cy="761.17" rx="2.27" ry="1.82" fill="#E8CBBB" opacity="0.35" filter="url(#bl)"/>
<circle cx="372.45" cy="761.84" r="0.7" fill="#F3E0D6" opacity="0.6"/>
<circle cx="376.51" cy="764.16" r="0.7" fill="#F3E0D6" opacity="0.6"/>
<circle cx="372.93" cy="762.29" r="0.7" fill="#F3E0D6" opacity="0.6"/>
<line x1="382.00" y1="783.60" x2="401.00" y2="783.60" stroke="#000" stroke-width="2.2" />
<text x="436.00" y="549.30" font-size="23.8" text-anchor="start" fill="#000" font-weight="bold" >D</text>
<line x1="480.40" y1="543.60" x2="480.40" y2="750.00" stroke="#222" stroke-width="1.3" />
<line x1="479.80" y1="749.40" x2="676.80" y2="749.40" stroke="#222" stroke-width="1.3" />
<line x1="476.80" y1="749.40" x2="480.40" y2="749.40" stroke="#222" stroke-width="1.3" />
<text x="469.60" y="753.50" font-size="11.6" text-anchor="end" fill="#000" font-weight="bold" >0</text>
<line x1="476.80" y1="708.22" x2="480.40" y2="708.22" stroke="#222" stroke-width="1.3" />
<text x="469.60" y="712.32" font-size="11.6" text-anchor="end" fill="#000" font-weight="bold" >0.2</text>
<line x1="476.80" y1="667.04" x2="480.40" y2="667.04" stroke="#222" stroke-width="1.3" />
<text x="469.60" y="671.14" font-size="11.6" text-anchor="end" fill="#000" font-weight="bold" >0.4</text>
<line x1="476.80" y1="625.86" x2="480.40" y2="625.86" stroke="#222" stroke-width="1.3" />
<text x="469.60" y="629.96" font-size="11.6" text-anchor="end" fill="#000" font-weight="bold" >0.6</text>
<line x1="476.80" y1="584.68" x2="480.40" y2="584.68" stroke="#222" stroke-width="1.3" />
<text x="469.60" y="588.78" font-size="11.6" text-anchor="end" fill="#000" font-weight="bold" >0.8</text>
<line x1="476.80" y1="543.50" x2="480.40" y2="543.50" stroke="#222" stroke-width="1.3" />
<text x="469.60" y="547.60" font-size="11.6" text-anchor="end" fill="#000" font-weight="bold" >1</text>
<line x1="480.40" y1="749.40" x2="480.40" y2="753.20" stroke="#000" stroke-width="1.2" />
<text x="480.40" y="768.20" font-size="12.0" text-anchor="middle" fill="#000" font-weight="bold" >0</text>
<line x1="529.50" y1="749.40" x2="529.50" y2="753.20" stroke="#000" stroke-width="1.2" />
<text x="529.50" y="768.20" font-size="12.0" text-anchor="middle" fill="#000" font-weight="bold" >1</text>
<line x1="578.60" y1="749.40" x2="578.60" y2="753.20" stroke="#000" stroke-width="1.2" />
<text x="578.60" y="768.20" font-size="12.0" text-anchor="middle" fill="#000" font-weight="bold" >2</text>
<line x1="627.70" y1="749.40" x2="627.70" y2="753.20" stroke="#000" stroke-width="1.2" />
<text x="627.70" y="768.20" font-size="12.0" text-anchor="middle" fill="#000" font-weight="bold" >3</text>
<line x1="676.80" y1="749.40" x2="676.80" y2="753.20" stroke="#000" stroke-width="1.2" />
<text x="676.80" y="768.20" font-size="12.0" text-anchor="middle" fill="#000" font-weight="bold" >4</text>
<text x="446.20" y="651.60" font-size="13.25" text-anchor="middle" fill="#000" font-weight="bold" transform="rotate(-90 446.2 651.6)">Tumor volume (cm<tspan font-size="9" dy="-3.8">3</tspan><tspan dy="3.8">)</tspan></text>
<text x="584.50" y="783.00" font-size="13.6" text-anchor="middle" fill="#000" font-weight="bold" >HR activity (-&#916;&#916;Ct)</text>
<text x="522.20" y="574.50" font-size="11.9" text-anchor="start" fill="#000" font-weight="bold" >R&#178; = 0.9795</text>
<line x1="492.00" y1="742.00" x2="664.40" y2="581.60" stroke="#888" stroke-width="2.2" stroke-dasharray="6 3.6"/>
<line x1="517.86" y1="692.37" x2="517.86" y2="732.93" stroke="#111" stroke-width="1.35" />
<line x1="514.86" y1="692.37" x2="520.86" y2="692.37" stroke="#111" stroke-width="1.3" />
<line x1="514.86" y1="732.93" x2="520.86" y2="732.93" stroke="#111" stroke-width="1.3" />
<line x1="509.40" y1="712.96" x2="525.40" y2="712.96" stroke="#444" stroke-width="1.6" />
<line x1="509.40" y1="710.36" x2="509.40" y2="715.56" stroke="#444" stroke-width="1.4" />
<line x1="525.40" y1="710.36" x2="525.40" y2="715.56" stroke="#444" stroke-width="1.4" />
<circle cx="517.86" cy="712.96" r="3.7" fill="#7F7F7F"/>
<text x="503.00" y="708.00" font-size="11.9" text-anchor="start" fill="#7A7A7A" font-weight="bold" >10</text>
<line x1="564.85" y1="655.72" x2="564.85" y2="710.90" stroke="#111" stroke-width="1.35" />
<line x1="561.85" y1="655.72" x2="567.85" y2="655.72" stroke="#111" stroke-width="1.3" />
<line x1="561.85" y1="710.90" x2="567.85" y2="710.90" stroke="#111" stroke-width="1.3" />
<line x1="558.00" y1="683.51" x2="570.40" y2="683.51" stroke="#444" stroke-width="1.6" />
<line x1="558.00" y1="680.91" x2="558.00" y2="686.11" stroke="#444" stroke-width="1.4" />
<line x1="570.40" y1="680.91" x2="570.40" y2="686.11" stroke="#444" stroke-width="1.4" />
<circle cx="564.85" cy="683.51" r="3.7" fill="#7F7F7F"/>
<text x="545.00" y="675.60" font-size="11.9" text-anchor="start" fill="#7A7A7A" font-weight="bold" >7.5</text>
<line x1="640.96" y1="549.68" x2="640.96" y2="642.33" stroke="#111" stroke-width="1.35" />
<line x1="637.96" y1="549.68" x2="643.96" y2="549.68" stroke="#111" stroke-width="1.3" />
<line x1="637.96" y1="642.33" x2="643.96" y2="642.33" stroke="#111" stroke-width="1.3" />
<line x1="627.40" y1="595.80" x2="653.40" y2="595.80" stroke="#444" stroke-width="1.6" />
<line x1="627.40" y1="593.20" x2="627.40" y2="598.40" stroke="#444" stroke-width="1.4" />
<line x1="653.40" y1="593.20" x2="653.40" y2="598.40" stroke="#444" stroke-width="1.4" />
<circle cx="640.96" cy="595.80" r="3.7" fill="#7F7F7F"/>
<text x="628.00" y="591.60" font-size="11.9" text-anchor="start" fill="#7A7A7A" font-weight="bold" >0</text>
<line x1="636.54" y1="566.97" x2="636.54" y2="656.33" stroke="#111" stroke-width="1.35" />
<line x1="633.54" y1="566.97" x2="639.54" y2="566.97" stroke="#111" stroke-width="1.3" />
<line x1="633.54" y1="656.33" x2="639.54" y2="656.33" stroke="#111" stroke-width="1.3" />
<line x1="601.60" y1="611.65" x2="671.60" y2="611.65" stroke="#444" stroke-width="1.6" />
<line x1="601.60" y1="609.05" x2="601.60" y2="614.25" stroke="#444" stroke-width="1.4" />
<line x1="671.60" y1="609.05" x2="671.60" y2="614.25" stroke="#444" stroke-width="1.4" />
<circle cx="636.54" cy="611.65" r="3.7" fill="#7F7F7F"/>
<text x="619.60" y="610.60" font-size="11.9" text-anchor="start" fill="#7A7A7A" font-weight="bold" >5</text>
</svg>
</body></html>
